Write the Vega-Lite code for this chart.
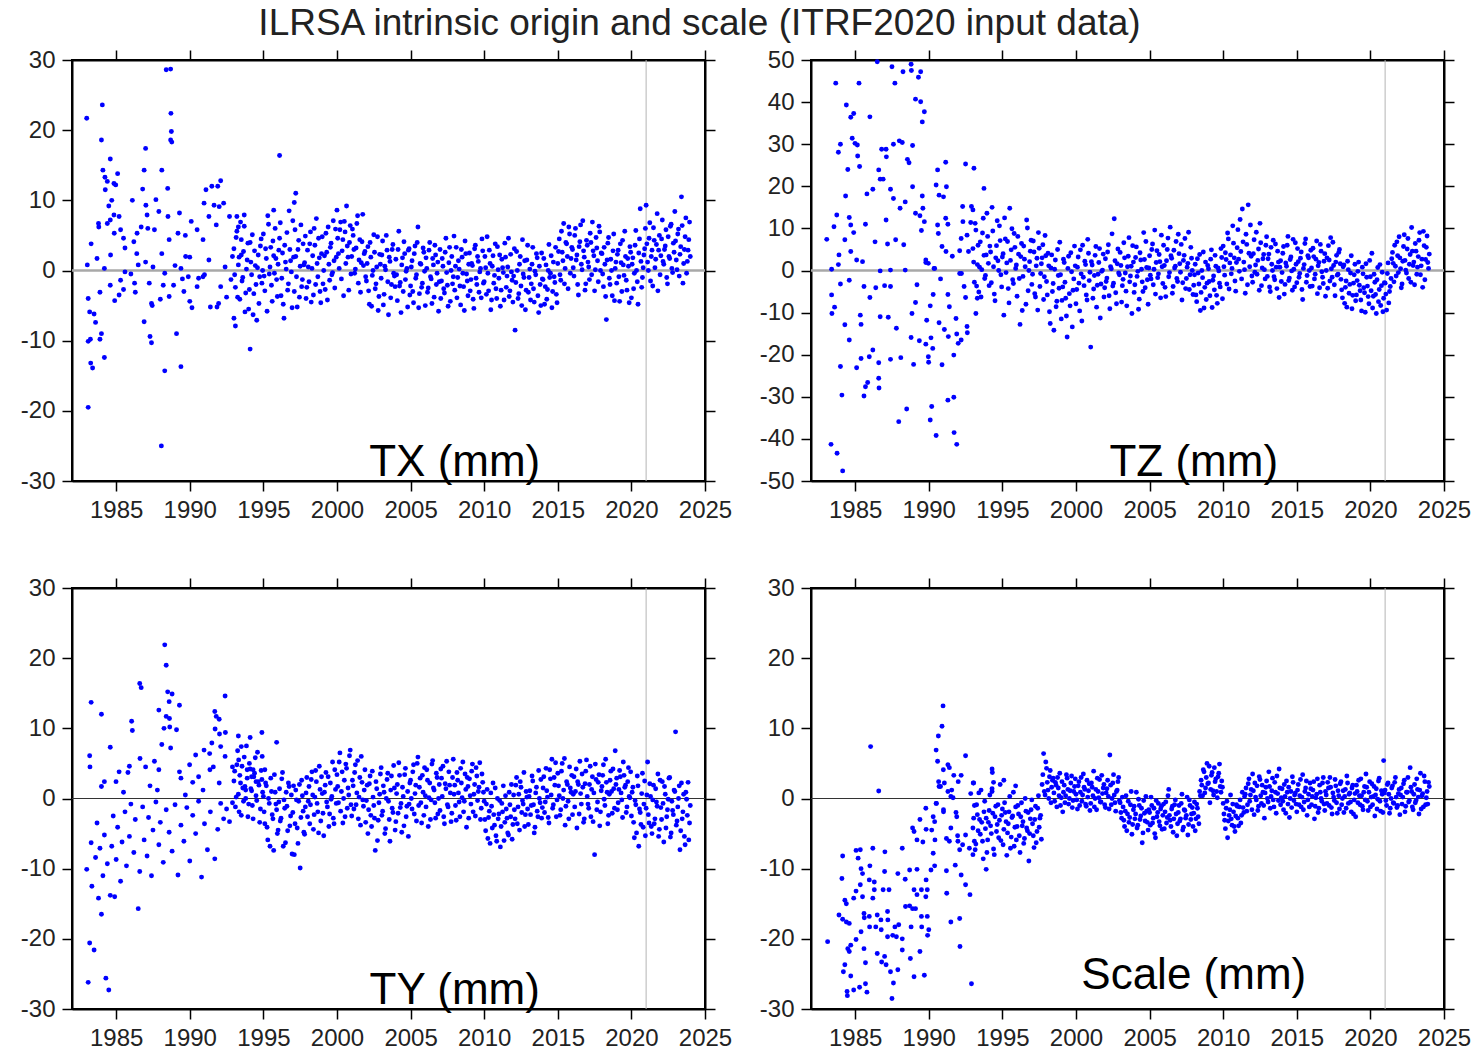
{
"$schema":"https://vega.github.io/schema/vega-lite/v6.json",
"background":"white",
"padding":{"left":19,"top":5,"right":10,"bottom":10},
"title":{"text":"ILRSA intrinsic origin and scale (ITRF2020 input data)","fontSize":37,"font":"Liberation Sans","fontWeight":"normal","color":"#222","anchor":"middle","offset":4,"dx":-46},
"config":{"font":"Liberation Sans","view":{"stroke":"black","strokeWidth":2},
"axis":{"domainColor":"black","domainWidth":2,"tickColor":"black","tickWidth":1.5,"tickSize":10,"labelFontSize":24,"labelColor":"#222","labelFont":"Liberation Sans","grid":false,"labelPadding":7,"labelFlush":false,"labelOverlap":false,"labelBound":false}},
"datasets":{
"tx":[
{"t":1983.0,"v":21.7},{"t":1984.06,"v":23.6},{"t":1984.0,"v":18.6},{"t":1984.6,"v":15.9},{"t":1984.1,"v":14.3},{"t":1984.24,"v":13.3},{"t":1984.4,"v":12.7},{"t":1984.85,"v":12.4},{"t":1984.97,"v":12.2},{"t":1985.1,"v":13.8},{"t":1984.26,"v":11.5},{"t":1984.7,"v":10.0},{"t":1984.5,"v":9.2},{"t":1983.8,"v":6.7},{"t":1983.82,"v":6.2},{"t":1984.4,"v":6.7},{"t":1984.6,"v":7.2},{"t":1984.85,"v":7.9},{"t":1985.2,"v":7.7},{"t":1984.87,"v":5.3},{"t":1983.3,"v":3.8},{"t":1983.7,"v":1.7},{"t":1984.2,"v":0.3},{"t":1983.04,"v":0.8},{"t":1984.62,"v":2.2},{"t":1985.3,"v":5.8},{"t":1985.5,"v":4.6},{"t":1985.6,"v":3.2},{"t":1986.1,"v":10.0},{"t":1986.2,"v":4.1},{"t":1986.4,"v":2.4},{"t":1987.0,"v":17.4},{"t":1986.9,"v":14.3},{"t":1986.8,"v":11.6},{"t":1987.02,"v":9.3},{"t":1987.1,"v":7.9},{"t":1986.7,"v":6.2},{"t":1986.42,"v":5.3},{"t":1987.15,"v":6.0},{"t":1987.6,"v":5.8},{"t":1987.7,"v":10.1},{"t":1987.9,"v":8.4},{"t":1988.1,"v":14.3},{"t":1988.5,"v":11.7},{"t":1988.4,"v":28.6},{"t":1988.7,"v":28.7},{"t":1988.72,"v":22.4},{"t":1988.75,"v":19.8},{"t":1988.7,"v":18.6},{"t":1988.78,"v":18.3},{"t":1988.52,"v":7.7},{"t":1989.3,"v":8.2},{"t":1989.2,"v":5.3},{"t":1988.6,"v":4.4},{"t":1988.1,"v":2.4},{"t":1989.7,"v":5.0},{"t":1990.1,"v":7.0},{"t":1990.5,"v":5.8},{"t":1991.1,"v":11.5},{"t":1990.97,"v":9.6},{"t":1991.5,"v":12.0},{"t":1991.9,"v":12.0},{"t":1992.1,"v":12.8},{"t":1991.65,"v":9.3},{"t":1992.0,"v":9.1},{"t":1992.3,"v":9.6},{"t":1991.3,"v":7.7},{"t":1991.8,"v":6.5},{"t":1992.7,"v":7.7},{"t":1993.2,"v":7.7},{"t":1993.7,"v":7.9},{"t":1990.9,"v":4.4},{"t":1991.3,"v":1.5},{"t":1989.72,"v":2.0},{"t":1989.4,"v":0.3},{"t":1993.3,"v":6.2},{"t":1993.5,"v":4.4},{"t":1992.9,"v":2.0},{"t":1995.7,"v":8.6},{"t":1996.1,"v":16.4},{"t":1997.2,"v":11.0},{"t":1997.1,"v":9.7},
{"t":1983.1,"v":-4.0},{"t":1983.2,"v":-5.9},{"t":1983.5,"v":-6.2},{"t":1983.6,"v":-7.4},{"t":1984.0,"v":-9.0},{"t":1983.9,"v":-9.8},{"t":1983.25,"v":-9.8},{"t":1983.1,"v":-10.1},{"t":1983.27,"v":-13.2},{"t":1983.4,"v":-13.9},{"t":1984.2,"v":-12.4},{"t":1983.1,"v":-19.5},{"t":1983.9,"v":-3.1},{"t":1984.6,"v":-2.1},{"t":1984.9,"v":-4.3},{"t":1985.3,"v":-1.4},{"t":1985.5,"v":-2.7},{"t":1985.2,"v":-3.5},{"t":1986.25,"v":-1.8},{"t":1986.3,"v":-3.1},{"t":1987.25,"v":-1.8},{"t":1986.9,"v":-7.3},{"t":1987.4,"v":-4.7},{"t":1987.3,"v":-9.4},{"t":1987.4,"v":-10.3},{"t":1988.0,"v":-4.1},{"t":1988.6,"v":-3.7},{"t":1988.2,"v":-2.1},{"t":1988.9,"v":-2.1},{"t":1988.3,"v":-14.3},{"t":1989.4,"v":-13.7},{"t":1989.1,"v":-9.0},{"t":1988.07,"v":-25.0},{"t":1987.45,"v":-5.0},{"t":1989.6,"v":-3.0},{"t":1990.0,"v":-4.4},{"t":1990.15,"v":-5.3},{"t":1990.5,"v":-2.3},{"t":1990.9,"v":-0.9},{"t":1991.4,"v":-5.2},{"t":1991.85,"v":-5.2},{"t":1991.96,"v":-4.7},{"t":1992.5,"v":-3.8},{"t":1992.1,"v":-2.3},{"t":1993.0,"v":-6.8},{"t":1993.1,"v":-7.9},{"t":1994.1,"v":-11.2},{"t":1985.6,"v":-0.2},{"t":1986.5,"v":0.8},{"t":1987.5,"v":0.5},{"t":1988.3,"v":-0.4},{"t":1989.5,"v":-1.2},{"t":1989.9,"v":-0.9},{"t":1990.6,"v":-1.1},{"t":1986.0,"v":-0.5},{"t":1987.0,"v":1.2},{"t":1989.0,"v":0.7},{"t":1990.0,"v":1.9},{"t":1991.0,"v":-0.6},{"t":1992.4,"v":0.5},{"t":1992.8,"v":-1.3},
{"t":1993.0,"v":3.1},{"t":1993.1,"v":-2.4},{"t":1993.2,"v":5.6},{"t":1993.3,"v":0.8},{"t":1993.4,"v":-4.1},{"t":1993.5,"v":2.2},{"t":1993.6,"v":-1.0},{"t":1993.7,"v":6.3},{"t":1993.8,"v":-3.2},{"t":1993.9,"v":1.5},
{"t":1994.0,"v":-5.5},{"t":1994.1,"v":4.0},{"t":1994.2,"v":-0.6},{"t":1994.3,"v":-6.3},{"t":1994.4,"v":2.8},{"t":1994.5,"v":-2.0},{"t":1994.6,"v":0.4},{"t":1994.7,"v":-4.7},{"t":1994.8,"v":3.5},{"t":1994.9,"v":-1.8},
{"t":1995.0,"v":5.2},{"t":1995.1,"v":-2.9},{"t":1995.2,"v":1.7},{"t":1995.3,"v":7.8},{"t":1995.4,"v":-0.5},{"t":1995.5,"v":3.3},{"t":1995.6,"v":-4.4},{"t":1995.7,"v":2.1},{"t":1995.8,"v":6.0},{"t":1995.9,"v":-1.3},
{"t":1996.0,"v":0.9},{"t":1996.1,"v":4.6},{"t":1996.2,"v":-3.6},{"t":1996.3,"v":2.5},{"t":1996.4,"v":-6.8},{"t":1996.5,"v":1.2},{"t":1996.6,"v":5.4},{"t":1996.7,"v":-1.9},{"t":1996.8,"v":3.0},{"t":1996.9,"v":-0.2},
{"t":1997.0,"v":7.1},{"t":1997.1,"v":-3.0},{"t":1997.2,"v":2.0},{"t":1997.3,"v":-5.2},{"t":1997.4,"v":4.3},{"t":1997.5,"v":0.6},{"t":1997.6,"v":-2.3},{"t":1997.7,"v":3.8},{"t":1997.8,"v":1.1},{"t":1997.9,"v":-4.0},
{"t":1998.0,"v":2.9},{"t":1998.1,"v":-1.6},{"t":1998.2,"v":5.5},{"t":1998.3,"v":0.3},{"t":1998.4,"v":-3.5},{"t":1998.5,"v":3.6},{"t":1998.6,"v":7.4},{"t":1998.7,"v":-0.9},{"t":1998.8,"v":1.8},{"t":1998.9,"v":-4.6},
{"t":1999.0,"v":4.8},{"t":1999.1,"v":0.0},{"t":1999.2,"v":-2.7},{"t":1999.3,"v":2.6},{"t":1999.4,"v":6.2},{"t":1999.5,"v":-1.4},{"t":1999.6,"v":3.9},{"t":1999.7,"v":-0.3},{"t":1999.8,"v":1.4},{"t":1999.9,"v":5.9},
{"t":2000.0,"v":8.6},{"t":2000.1,"v":2.4},{"t":2000.2,"v":5.8},{"t":2000.3,"v":-1.2},{"t":2000.4,"v":4.4},{"t":2000.5,"v":7.0},{"t":2000.6,"v":1.0},{"t":2000.7,"v":3.5},{"t":2000.8,"v":-2.8},{"t":2000.9,"v":6.4},
{"t":2001.0,"v":2.0},{"t":2001.1,"v":5.0},{"t":2001.2,"v":-0.4},{"t":2001.3,"v":3.2},{"t":2001.4,"v":7.8},{"t":2001.5,"v":1.5},{"t":2001.6,"v":-3.1},{"t":2001.7,"v":4.1},{"t":2001.8,"v":0.7},{"t":2001.9,"v":2.7},
{"t":2002.0,"v":-1.5},{"t":2002.1,"v":3.4},{"t":2002.2,"v":-4.8},{"t":2002.3,"v":1.9},{"t":2002.4,"v":-0.7},{"t":2002.5,"v":5.1},{"t":2002.6,"v":-2.6},{"t":2002.7,"v":0.5},{"t":2002.8,"v":-5.7},{"t":2002.9,"v":2.3},
{"t":2003.0,"v":-1.1},{"t":2003.1,"v":4.2},{"t":2003.2,"v":-3.4},{"t":2003.3,"v":0.1},{"t":2003.4,"v":2.9},{"t":2003.5,"v":-6.3},{"t":2003.6,"v":1.3},{"t":2003.7,"v":-2.0},{"t":2003.8,"v":3.7},{"t":2003.9,"v":-0.8},
{"t":2004.0,"v":1.6},{"t":2004.1,"v":-4.3},{"t":2004.2,"v":5.6},{"t":2004.3,"v":-1.7},{"t":2004.4,"v":0.8},{"t":2004.5,"v":-3.0},{"t":2004.6,"v":2.4},{"t":2004.7,"v":-0.1},{"t":2004.8,"v":-5.2},{"t":2004.9,"v":3.1},
{"t":2005.0,"v":-2.2},{"t":2005.1,"v":1.4},{"t":2005.2,"v":-4.6},{"t":2005.3,"v":3.5},{"t":2005.4,"v":-0.6},{"t":2005.5,"v":6.2},{"t":2005.6,"v":-3.3},{"t":2005.7,"v":0.9},{"t":2005.8,"v":-1.8},{"t":2005.9,"v":2.6},
{"t":2006.0,"v":-5.0},{"t":2006.1,"v":0.3},{"t":2006.2,"v":-2.5},{"t":2006.3,"v":4.0},{"t":2006.4,"v":-1.2},{"t":2006.5,"v":1.7},{"t":2006.6,"v":-3.8},{"t":2006.7,"v":2.2},{"t":2006.8,"v":-0.4},{"t":2006.9,"v":-5.8},
{"t":2007.0,"v":3.0},{"t":2007.1,"v":-1.5},{"t":2007.2,"v":0.6},{"t":2007.3,"v":-3.2},{"t":2007.4,"v":4.6},{"t":2007.5,"v":-2.1},{"t":2007.6,"v":1.1},{"t":2007.7,"v":-4.4},{"t":2007.8,"v":2.0},{"t":2007.9,"v":-0.9},
{"t":2008.0,"v":-2.8},{"t":2008.1,"v":3.3},{"t":2008.2,"v":-1.0},{"t":2008.3,"v":0.2},{"t":2008.4,"v":-4.9},{"t":2008.5,"v":1.9},{"t":2008.6,"v":-2.3},{"t":2008.7,"v":4.2},{"t":2008.8,"v":-0.5},{"t":2008.9,"v":-3.6},
{"t":2009.0,"v":2.5},{"t":2009.1,"v":-1.3},{"t":2009.2,"v":0.7},{"t":2009.3,"v":-5.4},{"t":2009.4,"v":3.6},{"t":2009.5,"v":-2.0},{"t":2009.6,"v":1.3},{"t":2009.7,"v":-0.2},{"t":2009.8,"v":-3.9},{"t":2009.9,"v":2.8},
{"t":2010.0,"v":-1.6},{"t":2010.1,"v":0.4},{"t":2010.2,"v":4.8},{"t":2010.3,"v":-2.9},{"t":2010.4,"v":1.0},{"t":2010.5,"v":-4.2},{"t":2010.6,"v":2.1},{"t":2010.7,"v":-0.7},{"t":2010.8,"v":-2.6},{"t":2010.9,"v":3.4},
{"t":2011.0,"v":-1.1},{"t":2011.1,"v":-5.1},{"t":2011.2,"v":1.6},{"t":2011.3,"v":-0.3},{"t":2011.4,"v":3.9},{"t":2011.5,"v":-2.4},{"t":2011.6,"v":0.5},{"t":2011.7,"v":-3.7},{"t":2011.8,"v":2.3},{"t":2011.9,"v":-1.4},
{"t":2012.0,"v":-0.8},{"t":2012.1,"v":-8.5},{"t":2012.2,"v":2.7},{"t":2012.3,"v":-4.0},{"t":2012.4,"v":0.9},{"t":2012.5,"v":-2.2},{"t":2012.6,"v":4.4},{"t":2012.7,"v":-1.0},{"t":2012.8,"v":-5.6},{"t":2012.9,"v":1.5},
{"t":2013.0,"v":-3.1},{"t":2013.1,"v":0.2},{"t":2013.2,"v":-1.9},{"t":2013.3,"v":3.3},{"t":2013.4,"v":-4.5},{"t":2013.5,"v":-0.6},{"t":2013.6,"v":1.8},{"t":2013.7,"v":-6.0},{"t":2013.8,"v":-2.0},{"t":2013.9,"v":2.5},
{"t":2014.0,"v":-1.3},{"t":2014.1,"v":-4.8},{"t":2014.2,"v":0.8},{"t":2014.3,"v":-2.7},{"t":2014.4,"v":3.7},{"t":2014.5,"v":-0.4},{"t":2014.6,"v":-5.3},{"t":2014.7,"v":1.2},{"t":2014.8,"v":-1.7},{"t":2014.9,"v":-3.4},
{"t":2015.0,"v":1.0},{"t":2015.1,"v":4.5},{"t":2015.2,"v":-1.4},{"t":2015.3,"v":2.6},{"t":2015.4,"v":6.7},{"t":2015.5,"v":0.3},{"t":2015.6,"v":3.8},{"t":2015.7,"v":-2.6},{"t":2015.8,"v":5.2},{"t":2015.9,"v":1.7},
{"t":2016.0,"v":3.0},{"t":2016.1,"v":-0.8},{"t":2016.2,"v":6.0},{"t":2016.3,"v":2.2},{"t":2016.4,"v":-3.5},{"t":2016.5,"v":4.1},{"t":2016.6,"v":0.9},{"t":2016.7,"v":7.1},{"t":2016.8,"v":1.9},{"t":2016.9,"v":-1.9},
{"t":2017.0,"v":3.6},{"t":2017.1,"v":0.5},{"t":2017.2,"v":5.3},{"t":2017.3,"v":-0.6},{"t":2017.4,"v":2.8},{"t":2017.5,"v":-2.9},{"t":2017.6,"v":4.7},{"t":2017.7,"v":1.4},{"t":2017.8,"v":6.3},{"t":2017.9,"v":0.0},
{"t":2018.0,"v":2.4},{"t":2018.1,"v":-2.3},{"t":2018.2,"v":0.9},{"t":2018.3,"v":-7.0},{"t":2018.4,"v":3.9},{"t":2018.5,"v":-1.1},{"t":2018.6,"v":1.6},{"t":2018.7,"v":-3.6},{"t":2018.8,"v":5.2},{"t":2018.9,"v":0.3},
{"t":2019.0,"v":-1.8},{"t":2019.1,"v":2.9},{"t":2019.2,"v":-4.4},{"t":2019.3,"v":1.1},{"t":2019.4,"v":4.3},{"t":2019.5,"v":-0.7},{"t":2019.6,"v":2.0},{"t":2019.7,"v":-2.8},{"t":2019.8,"v":0.6},{"t":2019.9,"v":3.4},
{"t":2020.0,"v":-3.9},{"t":2020.1,"v":1.8},{"t":2020.2,"v":-0.4},{"t":2020.3,"v":5.7},{"t":2020.4,"v":-1.6},{"t":2020.5,"v":2.5},{"t":2020.6,"v":8.8},{"t":2020.7,"v":-2.4},{"t":2020.8,"v":0.4},{"t":2020.9,"v":3.1},
{"t":2021.0,"v":9.3},{"t":2021.1,"v":1.2},{"t":2021.2,"v":4.6},{"t":2021.3,"v":-1.5},{"t":2021.4,"v":2.9},{"t":2021.5,"v":6.1},{"t":2021.6,"v":0.4},{"t":2021.7,"v":3.7},{"t":2021.8,"v":-2.9},{"t":2021.9,"v":5.0},
{"t":2022.0,"v":2.1},{"t":2022.1,"v":7.2},{"t":2022.2,"v":0.9},{"t":2022.3,"v":3.5},{"t":2022.4,"v":-1.0},{"t":2022.5,"v":4.8},{"t":2022.6,"v":1.7},{"t":2022.7,"v":6.6},{"t":2022.8,"v":-0.3},{"t":2022.9,"v":2.6},
{"t":2023.0,"v":4.2},{"t":2023.1,"v":0.1},{"t":2023.2,"v":5.9},{"t":2023.3,"v":2.3},{"t":2023.4,"v":10.5},{"t":2023.5,"v":-1.8},{"t":2023.6,"v":3.0},{"t":2023.7,"v":7.5},{"t":2023.8,"v":1.3},{"t":2023.9,"v":4.4},{"t":2024.0,"v":2.0},
{"t":1993.05,"v":-0.6},{"t":1993.15,"v":4.7},{"t":1993.25,"v":-3.8},{"t":1993.35,"v":1.9},{"t":1993.45,"v":6.9},{"t":1993.55,"v":-1.5},{"t":1993.65,"v":2.7},{"t":1993.75,"v":-5.9},{"t":1993.85,"v":0.2},{"t":1993.95,"v":3.9},
{"t":1994.05,"v":-2.7},{"t":1994.15,"v":1.2},{"t":1994.25,"v":5.1},{"t":1994.35,"v":-3.3},{"t":1994.45,"v":0.7},{"t":1994.55,"v":-7.1},{"t":1994.65,"v":2.2},{"t":1994.75,"v":-0.9},{"t":1994.85,"v":4.5},{"t":1994.95,"v":0.0},
{"t":1995.05,"v":-0.8},{"t":1995.15,"v":3.1},{"t":1995.25,"v":-5.8},{"t":1995.35,"v":6.6},{"t":1995.45,"v":0.5},{"t":1995.55,"v":-2.1},{"t":1995.65,"v":4.2},{"t":1995.75,"v":-0.4},{"t":1995.85,"v":1.7},{"t":1995.95,"v":-3.7},
{"t":1996.05,"v":2.9},{"t":1996.15,"v":6.8},{"t":1996.25,"v":-1.1},{"t":1996.35,"v":-4.8},{"t":1996.45,"v":3.6},{"t":1996.55,"v":0.2},{"t":1996.65,"v":-2.8},{"t":1996.75,"v":8.5},{"t":1996.85,"v":1.4},{"t":1996.95,"v":-5.3},
{"t":1997.05,"v":1.9},{"t":1997.15,"v":5.8},{"t":1997.25,"v":-0.9},{"t":1997.35,"v":3.0},{"t":1997.45,"v":-3.8},{"t":1997.55,"v":6.5},{"t":1997.65,"v":-1.3},{"t":1997.75,"v":0.8},{"t":1997.85,"v":4.9},{"t":1997.95,"v":-2.4},
{"t":1998.05,"v":0.5},{"t":1998.15,"v":3.8},{"t":1998.25,"v":-4.5},{"t":1998.35,"v":2.1},{"t":1998.45,"v":6.0},{"t":1998.55,"v":-2.0},{"t":1998.65,"v":1.0},{"t":1998.75,"v":4.6},{"t":1998.85,"v":-3.0},{"t":1998.95,"v":2.4},
{"t":1999.05,"v":-1.9},{"t":1999.15,"v":2.1},{"t":1999.25,"v":5.3},{"t":1999.35,"v":-4.2},{"t":1999.45,"v":0.9},{"t":1999.55,"v":3.3},{"t":1999.65,"v":-0.6},{"t":1999.75,"v":7.1},{"t":1999.85,"v":-2.5},{"t":1999.95,"v":1.9},
{"t":2000.05,"v":4.6},{"t":2000.15,"v":0.3},{"t":2000.25,"v":6.9},{"t":2000.35,"v":2.8},{"t":2000.45,"v":-3.6},{"t":2000.55,"v":5.5},{"t":2000.65,"v":9.2},{"t":2000.75,"v":1.9},{"t":2000.85,"v":4.0},{"t":2000.95,"v":-0.5},
{"t":2001.05,"v":5.9},{"t":2001.15,"v":3.0},{"t":2001.25,"v":0.2},{"t":2001.35,"v":6.7},{"t":2001.45,"v":-1.8},{"t":2001.55,"v":4.4},{"t":2001.65,"v":1.1},{"t":2001.75,"v":8.0},{"t":2001.85,"v":2.4},{"t":2001.95,"v":-0.9},
{"t":2002.05,"v":1.0},{"t":2002.15,"v":-2.9},{"t":2002.25,"v":4.0},{"t":2002.35,"v":-5.1},{"t":2002.45,"v":0.0},{"t":2002.55,"v":2.6},{"t":2002.65,"v":-1.9},{"t":2002.75,"v":4.8},{"t":2002.85,"v":-3.7},{"t":2002.95,"v":0.9},
{"t":2003.05,"v":2.2},{"t":2003.15,"v":-4.9},{"t":2003.25,"v":0.6},{"t":2003.35,"v":5.0},{"t":2003.45,"v":-1.6},{"t":2003.55,"v":1.9},{"t":2003.65,"v":-3.9},{"t":2003.75,"v":3.0},{"t":2003.85,"v":-0.4},{"t":2003.95,"v":-2.3},
{"t":2004.05,"v":-0.6},{"t":2004.15,"v":3.0},{"t":2004.25,"v":-2.2},{"t":2004.35,"v":-6.0},{"t":2004.45,"v":1.8},{"t":2004.55,"v":4.1},{"t":2004.65,"v":-1.3},{"t":2004.75,"v":0.3},{"t":2004.85,"v":2.9},{"t":2004.95,"v":-3.5},
{"t":2005.05,"v":0.5},{"t":2005.15,"v":-3.0},{"t":2005.25,"v":2.4},{"t":2005.35,"v":-1.1},{"t":2005.45,"v":4.0},{"t":2005.55,"v":-5.3},{"t":2005.65,"v":1.0},{"t":2005.75,"v":-2.4},{"t":2005.85,"v":3.2},{"t":2005.95,"v":-0.1},
{"t":2006.05,"v":1.8},{"t":2006.15,"v":-3.1},{"t":2006.25,"v":2.9},{"t":2006.35,"v":-0.9},{"t":2006.45,"v":-4.7},{"t":2006.55,"v":0.8},{"t":2006.65,"v":3.6},{"t":2006.75,"v":-2.0},{"t":2006.85,"v":1.2},{"t":2006.95,"v":-1.6},
{"t":2007.05,"v":-4.0},{"t":2007.15,"v":1.7},{"t":2007.25,"v":-2.6},{"t":2007.35,"v":2.6},{"t":2007.45,"v":-0.3},{"t":2007.55,"v":-5.1},{"t":2007.65,"v":3.3},{"t":2007.75,"v":0.0},{"t":2007.85,"v":-1.9},{"t":2007.95,"v":4.9},
{"t":2008.05,"v":0.6},{"t":2008.15,"v":-3.9},{"t":2008.25,"v":1.4},{"t":2008.35,"v":-2.2},{"t":2008.45,"v":3.0},{"t":2008.55,"v":-0.4},{"t":2008.65,"v":-5.7},{"t":2008.75,"v":2.4},{"t":2008.85,"v":-1.5},{"t":2008.95,"v":0.9},
{"t":2009.05,"v":-2.9},{"t":2009.15,"v":1.0},{"t":2009.25,"v":-4.1},{"t":2009.35,"v":3.1},{"t":2009.45,"v":-1.1},{"t":2009.55,"v":2.0},{"t":2009.65,"v":-3.1},{"t":2009.75,"v":0.3},{"t":2009.85,"v":4.5},{"t":2009.95,"v":-1.8},
{"t":2010.05,"v":2.0},{"t":2010.15,"v":-3.4},{"t":2010.25,"v":-0.4},{"t":2010.35,"v":2.9},{"t":2010.45,"v":-5.6},{"t":2010.55,"v":0.6},{"t":2010.65,"v":-1.8},{"t":2010.75,"v":3.8},{"t":2010.85,"v":-4.0},{"t":2010.95,"v":0.1},
{"t":2011.05,"v":2.2},{"t":2011.15,"v":-2.8},{"t":2011.25,"v":0.4},{"t":2011.35,"v":-4.2},{"t":2011.45,"v":1.9},{"t":2011.55,"v":-0.8},{"t":2011.65,"v":4.6},{"t":2011.75,"v":-2.9},{"t":2011.85,"v":-0.2},{"t":2011.95,"v":-4.5},
{"t":2012.05,"v":3.1},{"t":2012.15,"v":-1.7},{"t":2012.25,"v":0.0},{"t":2012.35,"v":-3.3},{"t":2012.45,"v":2.0},{"t":2012.55,"v":-5.0},{"t":2012.65,"v":-0.5},{"t":2012.75,"v":1.4},{"t":2012.85,"v":-2.8},{"t":2012.95,"v":3.6},
{"t":2013.05,"v":-1.0},{"t":2013.15,"v":-4.2},{"t":2013.25,"v":0.9},{"t":2013.35,"v":-2.6},{"t":2013.45,"v":-0.1},{"t":2013.55,"v":2.4},{"t":2013.65,"v":-3.6},{"t":2013.75,"v":0.6},{"t":2013.85,"v":-5.0},{"t":2013.95,"v":-1.2},
{"t":2014.05,"v":1.7},{"t":2014.15,"v":-2.3},{"t":2014.25,"v":-4.1},{"t":2014.35,"v":0.0},{"t":2014.45,"v":-1.0},{"t":2014.55,"v":2.1},{"t":2014.65,"v":-3.0},{"t":2014.75,"v":-0.9},{"t":2014.85,"v":3.3},{"t":2014.95,"v":-4.6},
{"t":2015.05,"v":2.7},{"t":2015.15,"v":-0.6},{"t":2015.25,"v":5.6},{"t":2015.35,"v":1.4},{"t":2015.45,"v":-1.9},{"t":2015.55,"v":4.0},{"t":2015.65,"v":2.0},{"t":2015.75,"v":6.2},{"t":2015.85,"v":-0.4},{"t":2015.95,"v":3.3},
{"t":2016.05,"v":0.4},{"t":2016.15,"v":5.0},{"t":2016.25,"v":1.5},{"t":2016.35,"v":-2.0},{"t":2016.45,"v":3.4},{"t":2016.55,"v":6.5},{"t":2016.65,"v":0.1},{"t":2016.75,"v":2.8},{"t":2016.85,"v":-2.8},{"t":2016.95,"v":4.3},
{"t":2017.05,"v":1.2},{"t":2017.15,"v":-1.3},{"t":2017.25,"v":4.0},{"t":2017.35,"v":6.9},{"t":2017.45,"v":2.1},{"t":2017.55,"v":0.1},{"t":2017.65,"v":3.2},{"t":2017.75,"v":-1.6},{"t":2017.85,"v":5.5},{"t":2017.95,"v":2.5},
{"t":2018.05,"v":-0.5},{"t":2018.15,"v":3.3},{"t":2018.25,"v":-3.7},{"t":2018.35,"v":1.5},{"t":2018.45,"v":4.7},{"t":2018.55,"v":-2.0},{"t":2018.65,"v":0.0},{"t":2018.75,"v":2.8},{"t":2018.85,"v":-4.3},{"t":2018.95,"v":1.2},
{"t":2019.05,"v":2.3},{"t":2019.15,"v":-0.9},{"t":2019.25,"v":3.8},{"t":2019.35,"v":-3.0},{"t":2019.45,"v":0.8},{"t":2019.55,"v":5.6},{"t":2019.65,"v":-1.4},{"t":2019.75,"v":1.7},{"t":2019.85,"v":-4.6},{"t":2019.95,"v":2.6},
{"t":2020.05,"v":0.9},{"t":2020.15,"v":-2.6},{"t":2020.25,"v":3.6},{"t":2020.35,"v":0.0},{"t":2020.45,"v":-4.8},{"t":2020.55,"v":4.5},{"t":2020.65,"v":1.3},{"t":2020.75,"v":-1.0},{"t":2020.85,"v":2.2},{"t":2020.95,"v":6.0},
{"t":2021.05,"v":3.8},{"t":2021.15,"v":0.0},{"t":2021.25,"v":6.8},{"t":2021.35,"v":2.0},{"t":2021.45,"v":-2.2},{"t":2021.55,"v":4.3},{"t":2021.65,"v":1.6},{"t":2021.75,"v":8.1},{"t":2021.85,"v":2.9},{"t":2021.95,"v":-0.6},
{"t":2022.05,"v":4.5},{"t":2022.15,"v":1.3},{"t":2022.25,"v":3.0},{"t":2022.35,"v":5.8},{"t":2022.45,"v":-1.9},{"t":2022.55,"v":2.0},{"t":2022.65,"v":6.3},{"t":2022.75,"v":0.3},{"t":2022.85,"v":3.9},{"t":2022.95,"v":8.4},
{"t":2023.05,"v":1.5},{"t":2023.15,"v":5.2},{"t":2023.25,"v":-0.8},{"t":2023.35,"v":3.4},{"t":2023.45,"v":6.4},{"t":2023.55,"v":1.0},{"t":2023.65,"v":4.8},{"t":2023.75,"v":-0.4},{"t":2023.85,"v":2.9},{"t":2023.95,"v":6.9}
],
"tz":[
{"t":1983.4,"v":0.3},{"t":1983.86,"v":1.4},{"t":1984.0,"v":-3.2},{"t":1984.6,"v":-2.3},{"t":1983.4,"v":-5.8},{"t":1983.6,"v":-8.7},{"t":1983.42,"v":-10.2},{"t":1984.3,"v":-12.9},{"t":1984.6,"v":-16.5},{"t":1984.0,"v":-22.8},{"t":1984.1,"v":-29.6},{"t":1983.36,"v":-41.3},{"t":1983.77,"v":-43.4},{"t":1984.15,"v":-47.6},{"t":1985.6,"v":-3.8},{"t":1986.0,"v":-6.4},{"t":1985.35,"v":-10.6},{"t":1985.4,"v":-12.8},{"t":1985.1,"v":-23.1},{"t":1985.4,"v":-20.9},{"t":1985.96,"v":-20.5},{"t":1986.2,"v":-18.9},{"t":1986.6,"v":-21.9},{"t":1985.85,"v":-26.6},{"t":1985.7,"v":-27.6},{"t":1985.6,"v":-29.8},{"t":1986.6,"v":-25.6},{"t":1986.62,"v":-27.9},{"t":1986.4,"v":-4.1},{"t":1987.0,"v":-3.6},{"t":1987.4,"v":-3.8},{"t":1986.7,"v":-11.0},{"t":1987.25,"v":-11.1},{"t":1987.8,"v":-13.7},{"t":1987.4,"v":-21.1},{"t":1988.1,"v":-20.7},{"t":1988.97,"v":-22.3},{"t":1988.5,"v":-32.9},{"t":1987.96,"v":-35.9},{"t":1989.2,"v":-3.4},{"t":1989.1,"v":-7.6},{"t":1988.86,"v":-10.2},{"t":1988.8,"v":-15.9},{"t":1989.36,"v":-16.7},{"t":1989.8,"v":-17.5},{"t":1990.15,"v":-16.0},{"t":1990.27,"v":-18.5},{"t":1989.86,"v":-11.8},{"t":1990.1,"v":-8.4},{"t":1990.3,"v":-5.7},{"t":1990.8,"v":-2.0},{"t":1989.8,"v":1.9},{"t":1990.4,"v":0.5},{"t":1989.97,"v":-20.5},{"t":1989.99,"v":-21.8},{"t":1990.9,"v":-22.4},{"t":1990.2,"v":-32.3},{"t":1990.1,"v":-35.5},{"t":1990.5,"v":-39.2},{"t":1991.3,"v":-5.7},{"t":1991.4,"v":-8.6},{"t":1990.7,"v":-12.4},{"t":1991.06,"v":-14.0},{"t":1991.33,"v":-15.7},{"t":1991.85,"v":-11.4},{"t":1991.9,"v":-15.1},{"t":1992.0,"v":-17.3},{"t":1992.2,"v":-16.5},{"t":1991.7,"v":-20.1},{"t":1991.3,"v":-30.8},{"t":1991.7,"v":-30.1},{"t":1991.72,"v":-38.5},{"t":1991.9,"v":-41.3},{"t":1992.4,"v":-3.8},{"t":1992.5,"v":-6.4},{"t":1992.6,"v":-13.3},{"t":1992.62,"v":-14.8},{"t":1993.2,"v":-10.2},{"t":1993.3,"v":-6.6},{"t":1992.1,"v":-0.7},
{"t":1983.07,"v":7.4},{"t":1983.56,"v":10.4},{"t":1983.75,"v":13.2},{"t":1983.86,"v":28.1},{"t":1984.0,"v":30.0},{"t":1983.68,"v":44.5},{"t":1984.4,"v":39.3},{"t":1984.7,"v":36.4},{"t":1984.9,"v":37.3},{"t":1984.5,"v":24.0},{"t":1984.35,"v":17.7},{"t":1984.6,"v":12.6},{"t":1984.7,"v":10.8},{"t":1984.9,"v":9.0},{"t":1984.3,"v":7.3},{"t":1984.8,"v":31.4},{"t":1984.99,"v":30.2},{"t":1985.15,"v":29.8},{"t":1985.17,"v":27.2},{"t":1985.3,"v":24.7},{"t":1985.26,"v":44.5},{"t":1983.9,"v":3.7},{"t":1984.7,"v":4.5},{"t":1985.1,"v":2.5},{"t":1985.5,"v":2.1},{"t":1985.7,"v":11.0},{"t":1985.8,"v":18.2},{"t":1986.0,"v":36.5},{"t":1986.2,"v":19.3},{"t":1986.35,"v":6.8},{"t":1986.5,"v":49.6},{"t":1986.7,"v":21.7},{"t":1986.6,"v":23.9},{"t":1986.8,"v":28.8},{"t":1987.1,"v":28.8},{"t":1987.12,"v":27.0},{"t":1986.9,"v":21.7},{"t":1987.1,"v":12.0},{"t":1987.2,"v":6.3},{"t":1987.4,"v":19.3},{"t":1987.6,"v":17.1},{"t":1987.5,"v":48.4},{"t":1987.7,"v":44.5},{"t":1987.6,"v":30.0},{"t":1988.0,"v":30.8},{"t":1988.2,"v":30.4},{"t":1987.75,"v":7.3},{"t":1988.05,"v":14.8},{"t":1988.4,"v":16.3},{"t":1988.25,"v":47.2},{"t":1988.8,"v":49.0},{"t":1988.82,"v":47.5},{"t":1989.3,"v":45.9},{"t":1989.45,"v":47.2},{"t":1988.55,"v":26.4},{"t":1988.66,"v":25.6},{"t":1988.9,"v":29.7},{"t":1988.9,"v":19.9},{"t":1989.1,"v":40.7},{"t":1989.45,"v":40.1},{"t":1989.7,"v":37.7},{"t":1989.56,"v":35.3},{"t":1989.1,"v":13.6},{"t":1989.4,"v":13.0},{"t":1989.6,"v":14.8},{"t":1989.56,"v":17.7},{"t":1989.5,"v":9.5},{"t":1989.7,"v":11.6},{"t":1989.8,"v":2.5},{"t":1989.97,"v":1.7},{"t":1990.36,"v":0.5},{"t":1988.3,"v":6.1},{"t":1988.4,"v":0.1},{"t":1987.4,"v":0.1},{"t":1986.7,"v":-0.1},{"t":1990.6,"v":10.8},{"t":1990.65,"v":8.8},{"t":1990.5,"v":20.3},{"t":1990.6,"v":23.9},{"t":1990.7,"v":17.9},{"t":1990.9,"v":5.7},{"t":1991.0,"v":17.5},{"t":1991.15,"v":25.7},{"t":1991.2,"v":19.9},{"t":1991.15,"v":12.4},{"t":1991.3,"v":11.0},{"t":1991.17,"v":4.5},{"t":1991.6,"v":3.4},{"t":1992.1,"v":4.7},{"t":1992.3,"v":15.2},{"t":1992.5,"v":25.3},{"t":1993.07,"v":24.3},{"t":1992.9,"v":15.2},{"t":1993.0,"v":14.4},{"t":1992.32,"v":11.6},{"t":1992.85,"v":11.4},{"t":1992.6,"v":8.4},{"t":1993.75,"v":19.5},{"t":1992.2,"v":7.6},{"t":1992.7,"v":4.5},{"t":1992.22,"v":-0.7},
{"t":1993.0,"v":5.2},{"t":1993.1,"v":-2.8},{"t":1993.2,"v":9.6},{"t":1993.3,"v":1.4},{"t":1993.4,"v":-5.1},{"t":1993.5,"v":6.8},{"t":1993.6,"v":0.2},{"t":1993.7,"v":12.4},{"t":1993.8,"v":-1.9},{"t":1993.9,"v":3.7},
{"t":1994.0,"v":8.1},{"t":1994.1,"v":-3.6},{"t":1994.2,"v":4.4},{"t":1994.3,"v":15.0},{"t":1994.4,"v":0.9},{"t":1994.5,"v":-7.2},{"t":1994.6,"v":5.9},{"t":1994.7,"v":2.3},{"t":1994.8,"v":10.6},{"t":1994.9,"v":-1.0},
{"t":1995.0,"v":3.2},{"t":1995.1,"v":-10.6},{"t":1995.2,"v":7.5},{"t":1995.3,"v":1.8},{"t":1995.4,"v":-4.3},{"t":1995.5,"v":14.8},{"t":1995.6,"v":4.9},{"t":1995.7,"v":-2.2},{"t":1995.8,"v":8.8},{"t":1995.9,"v":0.5},
{"t":1996.0,"v":-6.1},{"t":1996.1,"v":3.9},{"t":1996.2,"v":-12.8},{"t":1996.3,"v":6.4},{"t":1996.4,"v":-1.4},{"t":1996.5,"v":2.7},{"t":1996.6,"v":-8.0},{"t":1996.7,"v":10.1},{"t":1996.8,"v":0.0},{"t":1996.9,"v":4.6},
{"t":1997.0,"v":-3.3},{"t":1997.1,"v":7.0},{"t":1997.2,"v":-5.5},{"t":1997.3,"v":1.1},{"t":1997.4,"v":-9.4},{"t":1997.5,"v":5.3},{"t":1997.6,"v":-0.7},{"t":1997.7,"v":3.0},{"t":1997.8,"v":-6.9},{"t":1997.9,"v":8.3},
{"t":1998.0,"v":-2.6},{"t":1998.1,"v":4.1},{"t":1998.2,"v":-9.8},{"t":1998.3,"v":0.6},{"t":1998.4,"v":-5.0},{"t":1998.5,"v":-14.2},{"t":1998.6,"v":2.5},{"t":1998.7,"v":-7.3},{"t":1998.8,"v":-1.2},{"t":1998.9,"v":6.7},
{"t":1999.0,"v":-11.5},{"t":1999.1,"v":-3.9},{"t":1999.2,"v":1.9},{"t":1999.3,"v":-6.6},{"t":1999.4,"v":-15.8},{"t":1999.5,"v":3.4},{"t":1999.6,"v":-8.4},{"t":1999.7,"v":-0.3},{"t":1999.8,"v":-4.7},{"t":1999.9,"v":5.8},
{"t":2000.0,"v":-7.9},{"t":2000.1,"v":0.8},{"t":2000.2,"v":-3.0},{"t":2000.3,"v":4.9},{"t":2000.4,"v":-12.0},{"t":2000.5,"v":-1.6},{"t":2000.6,"v":2.2},{"t":2000.7,"v":-5.8},{"t":2000.8,"v":7.4},{"t":2000.9,"v":-2.4},
{"t":2001.0,"v":-18.2},{"t":2001.1,"v":1.3},{"t":2001.2,"v":-4.4},{"t":2001.3,"v":3.6},{"t":2001.4,"v":-8.7},{"t":2001.5,"v":-0.9},{"t":2001.6,"v":5.2},{"t":2001.7,"v":-3.2},{"t":2001.8,"v":0.1},{"t":2001.9,"v":-6.3},
{"t":2002.0,"v":2.8},{"t":2002.1,"v":-1.8},{"t":2002.2,"v":6.1},{"t":2002.3,"v":-9.1},{"t":2002.4,"v":0.4},{"t":2002.5,"v":-3.7},{"t":2002.6,"v":12.3},{"t":2002.7,"v":-5.3},{"t":2002.8,"v":1.6},{"t":2002.9,"v":-0.6},
{"t":2003.0,"v":4.3},{"t":2003.1,"v":-7.5},{"t":2003.2,"v":-2.1},{"t":2003.3,"v":3.0},{"t":2003.4,"v":-4.9},{"t":2003.5,"v":0.9},{"t":2003.6,"v":7.8},{"t":2003.7,"v":-1.3},{"t":2003.8,"v":-10.2},{"t":2003.9,"v":2.0},
{"t":2004.0,"v":-3.4},{"t":2004.1,"v":5.6},{"t":2004.2,"v":-0.2},{"t":2004.3,"v":-6.8},{"t":2004.4,"v":2.5},{"t":2004.5,"v":-2.7},{"t":2004.6,"v":9.0},{"t":2004.7,"v":-4.1},{"t":2004.8,"v":0.7},{"t":2004.9,"v":-8.0},
{"t":2005.0,"v":3.5},{"t":2005.1,"v":-2.0},{"t":2005.2,"v":6.3},{"t":2005.3,"v":0.3},{"t":2005.4,"v":-5.6},{"t":2005.5,"v":4.7},{"t":2005.6,"v":-0.8},{"t":2005.7,"v":2.1},{"t":2005.8,"v":8.4},{"t":2005.9,"v":-3.1},
{"t":2006.0,"v":1.2},{"t":2006.1,"v":-6.2},{"t":2006.2,"v":5.0},{"t":2006.3,"v":-1.5},{"t":2006.4,"v":10.3},{"t":2006.5,"v":2.9},{"t":2006.6,"v":-3.8},{"t":2006.7,"v":0.6},{"t":2006.8,"v":6.9},{"t":2006.9,"v":-2.6},
{"t":2007.0,"v":4.0},{"t":2007.1,"v":-0.4},{"t":2007.2,"v":-7.0},{"t":2007.3,"v":2.4},{"t":2007.4,"v":7.6},{"t":2007.5,"v":-1.9},{"t":2007.6,"v":1.7},{"t":2007.7,"v":-4.5},{"t":2007.8,"v":5.5},{"t":2007.9,"v":0.0},
{"t":2008.0,"v":-3.5},{"t":2008.1,"v":1.5},{"t":2008.2,"v":-7.4},{"t":2008.3,"v":-0.6},{"t":2008.4,"v":3.8},{"t":2008.5,"v":-5.2},{"t":2008.6,"v":-1.7},{"t":2008.7,"v":-8.9},{"t":2008.8,"v":2.0},{"t":2008.9,"v":-3.0},
{"t":2009.0,"v":0.4},{"t":2009.1,"v":-6.0},{"t":2009.2,"v":4.9},{"t":2009.3,"v":-2.3},{"t":2009.4,"v":-4.6},{"t":2009.5,"v":1.0},{"t":2009.6,"v":-7.8},{"t":2009.7,"v":-0.1},{"t":2009.8,"v":-3.9},{"t":2009.9,"v":3.1},
{"t":2010.0,"v":5.8},{"t":2010.1,"v":-1.1},{"t":2010.2,"v":2.6},{"t":2010.3,"v":8.9},{"t":2010.4,"v":-4.4},{"t":2010.5,"v":3.7},{"t":2010.6,"v":0.5},{"t":2010.7,"v":6.5},{"t":2010.8,"v":-2.5},{"t":2010.9,"v":1.9},
{"t":2011.0,"v":9.7},{"t":2011.1,"v":-0.2},{"t":2011.2,"v":4.5},{"t":2011.3,"v":14.6},{"t":2011.4,"v":2.0},{"t":2011.5,"v":-5.4},{"t":2011.6,"v":6.2},{"t":2011.7,"v":15.6},{"t":2011.8,"v":0.9},{"t":2011.9,"v":3.4},
{"t":2012.0,"v":-2.8},{"t":2012.1,"v":7.3},{"t":2012.2,"v":1.3},{"t":2012.3,"v":-0.9},{"t":2012.4,"v":5.1},{"t":2012.5,"v":11.2},{"t":2012.6,"v":-3.6},{"t":2012.7,"v":2.8},{"t":2012.8,"v":0.2},{"t":2012.9,"v":6.0},
{"t":2013.0,"v":-1.4},{"t":2013.1,"v":3.9},{"t":2013.2,"v":-5.0},{"t":2013.3,"v":1.5},{"t":2013.4,"v":7.2},{"t":2013.5,"v":-2.2},{"t":2013.6,"v":0.8},{"t":2013.7,"v":4.6},{"t":2013.8,"v":-6.4},{"t":2013.9,"v":2.3},
{"t":2014.0,"v":-0.5},{"t":2014.1,"v":5.7},{"t":2014.2,"v":-3.3},{"t":2014.3,"v":1.0},{"t":2014.4,"v":8.1},{"t":2014.5,"v":-1.8},{"t":2014.6,"v":3.2},{"t":2014.7,"v":-4.7},{"t":2014.8,"v":0.3},{"t":2014.9,"v":6.6},
{"t":2015.0,"v":-2.9},{"t":2015.1,"v":2.1},{"t":2015.2,"v":-0.7},{"t":2015.3,"v":4.4},{"t":2015.4,"v":-6.9},{"t":2015.5,"v":1.4},{"t":2015.6,"v":7.5},{"t":2015.7,"v":-1.2},{"t":2015.8,"v":3.0},{"t":2015.9,"v":-3.8},
{"t":2016.0,"v":0.6},{"t":2016.1,"v":5.3},{"t":2016.2,"v":-2.0},{"t":2016.3,"v":2.7},{"t":2016.4,"v":-5.5},{"t":2016.5,"v":1.9},{"t":2016.6,"v":6.2},{"t":2016.7,"v":-0.3},{"t":2016.8,"v":-3.1},{"t":2016.9,"v":4.0},
{"t":2017.0,"v":0.0},{"t":2017.1,"v":-4.2},{"t":2017.2,"v":2.5},{"t":2017.3,"v":7.8},{"t":2017.4,"v":-1.6},{"t":2017.5,"v":1.2},{"t":2017.6,"v":-6.0},{"t":2017.7,"v":3.6},{"t":2017.8,"v":-0.9},{"t":2017.9,"v":5.0},
{"t":2018.0,"v":-2.1},{"t":2018.1,"v":-6.5},{"t":2018.2,"v":1.3},{"t":2018.3,"v":-4.0},{"t":2018.4,"v":-8.7},{"t":2018.5,"v":0.2},{"t":2018.6,"v":-3.3},{"t":2018.7,"v":3.5},{"t":2018.8,"v":-5.9},{"t":2018.9,"v":-1.0},
{"t":2019.0,"v":-7.2},{"t":2019.1,"v":-2.4},{"t":2019.2,"v":2.0},{"t":2019.3,"v":-4.8},{"t":2019.4,"v":-9.6},{"t":2019.5,"v":-0.8},{"t":2019.6,"v":-5.3},{"t":2019.7,"v":1.6},{"t":2019.8,"v":-3.7},{"t":2019.9,"v":-7.9},
{"t":2020.0,"v":-1.5},{"t":2020.1,"v":4.1},{"t":2020.2,"v":-6.1},{"t":2020.3,"v":-2.8},{"t":2020.4,"v":-10.2},{"t":2020.5,"v":0.7},{"t":2020.6,"v":-4.5},{"t":2020.7,"v":-8.3},{"t":2020.8,"v":-0.4},{"t":2020.9,"v":-6.6},
{"t":2021.0,"v":-3.0},{"t":2021.1,"v":-9.4},{"t":2021.2,"v":1.8},{"t":2021.3,"v":-5.0},{"t":2021.4,"v":-1.9},
{"t":2021.5,"v":4.3},{"t":2021.6,"v":-2.7},{"t":2021.7,"v":1.0},{"t":2021.8,"v":6.8},{"t":2021.9,"v":-0.5},{"t":2022.0,"v":3.0},{"t":2022.1,"v":-4.1},{"t":2022.2,"v":2.2},{"t":2022.3,"v":8.5},{"t":2022.4,"v":0.1},{"t":2022.5,"v":5.1},{"t":2022.6,"v":-1.9},{"t":2022.7,"v":3.8},{"t":2022.8,"v":10.2},{"t":2022.9,"v":1.2},
{"t":2023.0,"v":-3.4},{"t":2023.1,"v":4.6},{"t":2023.2,"v":0.8},{"t":2023.3,"v":7.2},{"t":2023.4,"v":-1.0},{"t":2023.5,"v":2.7},{"t":2023.6,"v":9.3},{"t":2023.7,"v":-2.2},{"t":2023.8,"v":5.5},{"t":2023.9,"v":1.9},{"t":2024.0,"v":3.9},
{"t":1993.05,"v":2.0},{"t":1993.15,"v":11.2},{"t":1993.25,"v":-3.7},{"t":1993.35,"v":6.0},{"t":1993.45,"v":0.8},{"t":1993.55,"v":-6.3},{"t":1993.65,"v":8.9},{"t":1993.75,"v":3.6},{"t":1993.85,"v":-1.2},{"t":1993.95,"v":13.6},
{"t":1994.05,"v":1.7},{"t":1994.15,"v":5.8},{"t":1994.25,"v":-2.9},{"t":1994.35,"v":9.4},{"t":1994.45,"v":-5.6},{"t":1994.55,"v":3.0},{"t":1994.65,"v":11.8},{"t":1994.75,"v":0.0},{"t":1994.85,"v":7.1},{"t":1994.95,"v":-3.9},
{"t":1995.05,"v":4.0},{"t":1995.15,"v":12.5},{"t":1995.25,"v":-0.5},{"t":1995.35,"v":6.9},{"t":1995.45,"v":-7.7},{"t":1995.55,"v":2.4},{"t":1995.65,"v":9.9},{"t":1995.75,"v":-3.1},{"t":1995.85,"v":5.5},{"t":1995.95,"v":1.3},
{"t":1996.05,"v":8.1},{"t":1996.15,"v":-1.9},{"t":1996.25,"v":3.3},{"t":1996.35,"v":-9.5},{"t":1996.45,"v":5.8},{"t":1996.55,"v":0.9},{"t":1996.65,"v":12.0},{"t":1996.75,"v":-4.8},{"t":1996.85,"v":2.1},{"t":1996.95,"v":7.2},
{"t":1997.05,"v":-0.9},{"t":1997.15,"v":4.4},{"t":1997.25,"v":-6.3},{"t":1997.35,"v":2.9},{"t":1997.45,"v":9.0},{"t":1997.55,"v":-3.8},{"t":1997.65,"v":1.6},{"t":1997.75,"v":6.1},{"t":1997.85,"v":-1.5},{"t":1997.95,"v":3.5},
{"t":1998.05,"v":-5.8},{"t":1998.15,"v":1.1},{"t":1998.25,"v":-12.6},{"t":1998.35,"v":3.7},{"t":1998.45,"v":-3.1},{"t":1998.55,"v":0.3},{"t":1998.65,"v":-8.6},{"t":1998.75,"v":5.0},{"t":1998.85,"v":-4.2},{"t":1998.95,"v":-1.0},
{"t":1999.05,"v":-7.1},{"t":1999.15,"v":2.7},{"t":1999.25,"v":-2.8},{"t":1999.35,"v":-10.8},{"t":1999.45,"v":0.5},{"t":1999.55,"v":-5.5},{"t":1999.65,"v":4.2},{"t":1999.75,"v":-13.4},{"t":1999.85,"v":-2.0},{"t":1999.95,"v":1.1},
{"t":2000.05,"v":-4.5},{"t":2000.15,"v":3.2},{"t":2000.25,"v":-9.6},{"t":2000.35,"v":-0.8},{"t":2000.45,"v":6.0},{"t":2000.55,"v":-3.6},{"t":2000.65,"v":1.4},{"t":2000.75,"v":-7.0},{"t":2000.85,"v":4.1},{"t":2000.95,"v":-0.4},
{"t":2001.05,"v":2.1},{"t":2001.15,"v":-6.6},{"t":2001.25,"v":-1.2},{"t":2001.35,"v":5.7},{"t":2001.45,"v":-3.5},{"t":2001.55,"v":1.9},{"t":2001.65,"v":-11.3},{"t":2001.75,"v":-0.2},{"t":2001.85,"v":3.9},{"t":2001.95,"v":-4.1},
{"t":2002.05,"v":-2.6},{"t":2002.15,"v":4.4},{"t":2002.25,"v":-6.0},{"t":2002.35,"v":0.9},{"t":2002.45,"v":8.7},{"t":2002.55,"v":-3.0},{"t":2002.65,"v":2.3},{"t":2002.75,"v":-7.9},{"t":2002.85,"v":5.1},{"t":2002.95,"v":-1.0},
{"t":2003.05,"v":1.2},{"t":2003.15,"v":-3.6},{"t":2003.25,"v":6.6},{"t":2003.35,"v":-0.6},{"t":2003.45,"v":-8.4},{"t":2003.55,"v":3.4},{"t":2003.65,"v":-2.7},{"t":2003.75,"v":1.0},{"t":2003.85,"v":5.9},{"t":2003.95,"v":-5.2},
{"t":2004.05,"v":3.1},{"t":2004.15,"v":-1.4},{"t":2004.25,"v":-9.2},{"t":2004.35,"v":4.2},{"t":2004.45,"v":0.3},{"t":2004.55,"v":-5.0},{"t":2004.65,"v":2.6},{"t":2004.75,"v":6.9},{"t":2004.85,"v":-2.2},{"t":2004.95,"v":0.6},
{"t":2005.05,"v":-1.1},{"t":2005.15,"v":5.0},{"t":2005.25,"v":-3.4},{"t":2005.35,"v":9.6},{"t":2005.45,"v":1.9},{"t":2005.55,"v":-1.7},{"t":2005.65,"v":3.8},{"t":2005.75,"v":-6.5},{"t":2005.85,"v":0.9},{"t":2005.95,"v":6.0},
{"t":2006.05,"v":-4.0},{"t":2006.15,"v":2.3},{"t":2006.25,"v":7.7},{"t":2006.35,"v":-0.5},{"t":2006.45,"v":3.5},{"t":2006.55,"v":-5.4},{"t":2006.65,"v":4.8},{"t":2006.75,"v":1.0},{"t":2006.85,"v":-1.9},{"t":2006.95,"v":8.6},
{"t":2007.05,"v":1.6},{"t":2007.15,"v":6.2},{"t":2007.25,"v":-2.9},{"t":2007.35,"v":3.6},{"t":2007.45,"v":-4.3},{"t":2007.55,"v":0.8},{"t":2007.65,"v":9.1},{"t":2007.75,"v":-1.0},{"t":2007.85,"v":2.9},{"t":2007.95,"v":-5.7},
{"t":2008.05,"v":-1.0},{"t":2008.15,"v":-5.8},{"t":2008.25,"v":2.8},{"t":2008.35,"v":-3.2},{"t":2008.45,"v":-9.5},{"t":2008.55,"v":0.0},{"t":2008.65,"v":4.4},{"t":2008.75,"v":-4.0},{"t":2008.85,"v":-6.9},{"t":2008.95,"v":1.2},
{"t":2009.05,"v":-2.6},{"t":2009.15,"v":2.7},{"t":2009.25,"v":-8.8},{"t":2009.35,"v":-1.3},{"t":2009.45,"v":3.6},{"t":2009.55,"v":-5.9},{"t":2009.65,"v":0.6},{"t":2009.75,"v":-3.0},{"t":2009.85,"v":5.2},{"t":2009.95,"v":-6.7},
{"t":2010.05,"v":0.9},{"t":2010.15,"v":4.2},{"t":2010.25,"v":-3.2},{"t":2010.35,"v":7.5},{"t":2010.45,"v":1.8},{"t":2010.55,"v":-0.8},{"t":2010.65,"v":10.6},{"t":2010.75,"v":3.0},{"t":2010.85,"v":-4.9},{"t":2010.95,"v":5.4},
{"t":2011.05,"v":2.7},{"t":2011.15,"v":12.1},{"t":2011.25,"v":-2.0},{"t":2011.35,"v":6.8},{"t":2011.45,"v":0.2},{"t":2011.55,"v":8.6},{"t":2011.65,"v":-3.4},{"t":2011.75,"v":4.1},{"t":2011.85,"v":10.8},{"t":2011.95,"v":-1.3},
{"t":2012.05,"v":4.0},{"t":2012.15,"v":-0.4},{"t":2012.25,"v":9.1},{"t":2012.35,"v":2.4},{"t":2012.45,"v":-4.7},{"t":2012.55,"v":6.6},{"t":2012.65,"v":0.6},{"t":2012.75,"v":3.8},{"t":2012.85,"v":-2.0},{"t":2012.95,"v":8.0},
{"t":2013.05,"v":2.8},{"t":2013.15,"v":-3.9},{"t":2013.25,"v":5.5},{"t":2013.35,"v":0.0},{"t":2013.45,"v":-1.5},{"t":2013.55,"v":6.3},{"t":2013.65,"v":-4.3},{"t":2013.75,"v":2.0},{"t":2013.85,"v":0.8},{"t":2013.95,"v":-2.6},
{"t":2014.05,"v":4.1},{"t":2014.15,"v":-5.6},{"t":2014.25,"v":1.8},{"t":2014.35,"v":6.0},{"t":2014.45,"v":-2.4},{"t":2014.55,"v":2.6},{"t":2014.65,"v":-0.1},{"t":2014.75,"v":7.4},{"t":2014.85,"v":-3.9},{"t":2014.95,"v":1.5},
{"t":2015.05,"v":5.2},{"t":2015.15,"v":-1.6},{"t":2015.25,"v":2.9},{"t":2015.35,"v":-4.5},{"t":2015.45,"v":0.5},{"t":2015.55,"v":6.4},{"t":2015.65,"v":-2.8},{"t":2015.75,"v":3.5},{"t":2015.85,"v":0.0},{"t":2015.95,"v":4.8},
{"t":2016.05,"v":-3.7},{"t":2016.15,"v":3.3},{"t":2016.25,"v":-0.9},{"t":2016.35,"v":7.0},{"t":2016.45,"v":1.1},{"t":2016.55,"v":-4.1},{"t":2016.65,"v":4.6},{"t":2016.75,"v":-1.6},{"t":2016.85,"v":2.2},{"t":2016.95,"v":-6.1},
{"t":2017.05,"v":3.0},{"t":2017.15,"v":5.9},{"t":2017.25,"v":-2.5},{"t":2017.35,"v":0.4},{"t":2017.45,"v":6.7},{"t":2017.55,"v":-3.4},{"t":2017.65,"v":2.0},{"t":2017.75,"v":-1.1},{"t":2017.85,"v":4.3},{"t":2017.95,"v":1.6},
{"t":2018.05,"v":-4.6},{"t":2018.15,"v":0.9},{"t":2018.25,"v":-7.8},{"t":2018.35,"v":-2.5},{"t":2018.45,"v":2.2},{"t":2018.55,"v":-5.4},{"t":2018.65,"v":-0.6},{"t":2018.75,"v":-9.1},{"t":2018.85,"v":-3.0},{"t":2018.95,"v":1.5},
{"t":2019.05,"v":-5.8},{"t":2019.15,"v":-0.2},{"t":2019.25,"v":-3.5},{"t":2019.35,"v":-7.0},{"t":2019.45,"v":0.8},{"t":2019.55,"v":-4.1},{"t":2019.65,"v":-9.9},{"t":2019.75,"v":-1.6},{"t":2019.85,"v":-6.2},{"t":2019.95,"v":2.4},
{"t":2020.05,"v":-4.8},{"t":2020.15,"v":-8.9},{"t":2020.25,"v":-0.9},{"t":2020.35,"v":-5.7},{"t":2020.45,"v":-2.2},{"t":2020.55,"v":-7.4},{"t":2020.65,"v":1.4},{"t":2020.75,"v":-3.6},{"t":2020.85,"v":-9.8},{"t":2020.95,"v":-2.9},
{"t":2021.05,"v":-5.6},{"t":2021.15,"v":-0.7},{"t":2021.25,"v":-7.7},{"t":2021.35,"v":-3.8},{"t":2021.45,"v":2.8},{"t":2021.55,"v":1.7},{"t":2021.65,"v":6.0},{"t":2021.75,"v":-1.3},{"t":2021.85,"v":3.5},{"t":2021.95,"v":8.0},
{"t":2022.05,"v":0.4},{"t":2022.15,"v":-3.2},{"t":2022.25,"v":5.7},{"t":2022.35,"v":2.4},{"t":2022.45,"v":-0.6},{"t":2022.55,"v":7.6},{"t":2022.65,"v":1.5},{"t":2022.75,"v":-2.8},{"t":2022.85,"v":4.6},{"t":2022.95,"v":2.0},
{"t":2023.05,"v":6.4},{"t":2023.15,"v":-0.9},{"t":2023.25,"v":3.3},{"t":2023.35,"v":9.0},{"t":2023.45,"v":1.1},{"t":2023.55,"v":-4.0},{"t":2023.65,"v":5.9},{"t":2023.75,"v":2.6},{"t":2023.85,"v":8.2},{"t":2023.95,"v":0.5}
],
"ty":[
{"t":1983.3,"v":13.7},{"t":1984.0,"v":12.0},{"t":1983.2,"v":6.1},{"t":1983.22,"v":4.5},{"t":1984.6,"v":7.3},{"t":1984.2,"v":2.4},{"t":1984.0,"v":1.7},{"t":1984.99,"v":2.4},{"t":1985.2,"v":3.8},{"t":1985.8,"v":3.7},{"t":1985.9,"v":4.6},{"t":1986.05,"v":11.0},{"t":1986.1,"v":9.7},{"t":1986.6,"v":16.4},{"t":1986.7,"v":15.8},{"t":1986.62,"v":5.7},{"t":1987.0,"v":4.5},{"t":1987.6,"v":5.3},{"t":1987.9,"v":4.1},{"t":1987.8,"v":1.2},{"t":1988.3,"v":21.9},{"t":1988.4,"v":19.0},{"t":1988.5,"v":15.2},{"t":1988.8,"v":14.9},{"t":1988.6,"v":13.8},{"t":1989.3,"v":13.3},{"t":1987.9,"v":12.6},{"t":1988.4,"v":11.7},{"t":1988.62,"v":11.4},{"t":1988.25,"v":10.0},{"t":1988.64,"v":10.2},{"t":1989.1,"v":9.8},{"t":1988.1,"v":7.7},{"t":1988.7,"v":7.2},{"t":1989.3,"v":3.8},{"t":1989.4,"v":2.9},{"t":1989.99,"v":4.8},{"t":1990.4,"v":6.2},{"t":1990.2,"v":2.3},{"t":1990.6,"v":3.1},{"t":1990.97,"v":6.9},{"t":1991.35,"v":6.4},{"t":1991.5,"v":7.9},{"t":1991.7,"v":12.4},{"t":1991.8,"v":11.7},{"t":1992.0,"v":11.3},{"t":1991.72,"v":9.9},{"t":1992.02,"v":9.2},{"t":1992.4,"v":14.6},{"t":1992.42,"v":9.4},{"t":1992.1,"v":7.4},{"t":1992.4,"v":6.0},{"t":1991.6,"v":4.5},{"t":1991.37,"v":4.1},{"t":1992.0,"v":2.2},{"t":1992.9,"v":4.5},{"t":1993.3,"v":8.9},{"t":1993.5,"v":7.4},{"t":1994.1,"v":8.7},{"t":1994.9,"v":9.4},{"t":1995.9,"v":8.0},{"t":1993.32,"v":5.5},{"t":1993.9,"v":4.1},{"t":1994.2,"v":3.1},{"t":1994.5,"v":2.4},{"t":1994.92,"v":6.0},{"t":1995.1,"v":4.1},{"t":1993.8,"v":1.2},{"t":1994.3,"v":4.1},
{"t":1983.0,"v":-10.1},{"t":1983.1,"v":-26.2},{"t":1983.2,"v":-20.6},{"t":1983.3,"v":-6.3},{"t":1983.35,"v":-12.5},{"t":1983.5,"v":-21.6},{"t":1983.6,"v":-8.4},{"t":1983.7,"v":-3.5},{"t":1983.8,"v":-14.2},{"t":1983.9,"v":-7.1},{"t":1984.0,"v":-16.5},{"t":1984.1,"v":-11.0},{"t":1984.2,"v":-5.2},{"t":1984.3,"v":-25.6},{"t":1984.4,"v":-9.3},{"t":1984.5,"v":-27.3},{"t":1984.6,"v":-13.8},{"t":1984.7,"v":-6.8},{"t":1984.8,"v":-2.5},{"t":1984.9,"v":-14.0},{"t":1985.0,"v":-8.7},{"t":1985.1,"v":-4.1},{"t":1985.3,"v":-11.8},{"t":1985.4,"v":-6.2},{"t":1985.6,"v":-1.9},{"t":1985.7,"v":-9.6},{"t":1985.9,"v":-5.4},{"t":1986.0,"v":-0.8},{"t":1986.2,"v":-7.7},{"t":1986.3,"v":-3.0},{"t":1986.5,"v":-15.7},{"t":1986.6,"v":-10.4},{"t":1986.8,"v":-1.2},{"t":1986.9,"v":-5.9},{"t":1987.1,"v":-8.2},{"t":1987.2,"v":-2.7},{"t":1987.4,"v":-11.0},{"t":1987.5,"v":-4.5},{"t":1987.7,"v":-0.5},{"t":1987.9,"v":-6.6},{"t":1988.0,"v":-3.4},{"t":1988.2,"v":-9.1},{"t":1988.4,"v":-1.6},{"t":1988.6,"v":-4.8},{"t":1988.8,"v":-7.5},{"t":1989.0,"v":-0.9},{"t":1989.2,"v":-10.9},{"t":1989.4,"v":-3.8},{"t":1989.6,"v":-6.1},{"t":1989.8,"v":-1.3},{"t":1990.0,"v":-8.9},{"t":1990.2,"v":-2.4},{"t":1990.4,"v":-5.0},{"t":1990.6,"v":-0.4},{"t":1990.8,"v":-11.2},{"t":1991.0,"v":-3.6},{"t":1991.2,"v":-7.3},{"t":1991.4,"v":-1.9},{"t":1991.7,"v":-8.6},{"t":1991.9,"v":-4.4},{"t":1992.1,"v":-0.7},{"t":1992.3,"v":-2.9},{"t":1992.5,"v":-1.5},{"t":1992.7,"v":-3.3},{"t":1992.9,"v":-0.6},{"t":1985.5,"v":0.9},{"t":1987.3,"v":1.8},{"t":1989.7,"v":0.5},{"t":1990.9,"v":1.2},
{"t":1993.0,"v":2.5},{"t":1993.1,"v":-1.2},{"t":1993.2,"v":4.8},{"t":1993.3,"v":0.6},{"t":1993.4,"v":3.3},{"t":1993.5,"v":-2.4},{"t":1993.6,"v":1.5},{"t":1993.7,"v":5.9},{"t":1993.8,"v":0.0},{"t":1993.9,"v":2.9},
{"t":1994.0,"v":-0.8},{"t":1994.1,"v":4.2},{"t":1994.2,"v":1.1},{"t":1994.3,"v":-2.9},{"t":1994.4,"v":3.6},{"t":1994.5,"v":0.4},{"t":1994.6,"v":6.6},{"t":1994.7,"v":1.9},{"t":1994.8,"v":-1.5},{"t":1994.9,"v":2.7},
{"t":1995.0,"v":0.3},{"t":1995.1,"v":-3.6},{"t":1995.2,"v":1.8},{"t":1995.3,"v":-5.9},{"t":1995.4,"v":-0.7},{"t":1995.5,"v":2.9},{"t":1995.6,"v":-2.3},{"t":1995.7,"v":-7.4},{"t":1995.8,"v":0.9},{"t":1995.9,"v":-1.6},
{"t":1996.0,"v":-4.5},{"t":1996.1,"v":1.4},{"t":1996.2,"v":-2.8},{"t":1996.3,"v":3.7},{"t":1996.4,"v":-0.2},{"t":1996.5,"v":-6.3},{"t":1996.6,"v":-1.1},{"t":1996.7,"v":2.2},{"t":1996.8,"v":-3.9},{"t":1996.9,"v":0.5},
{"t":1997.0,"v":-2.0},{"t":1997.1,"v":-8.0},{"t":1997.2,"v":1.2},{"t":1997.3,"v":-4.2},{"t":1997.4,"v":-0.4},{"t":1997.5,"v":-9.9},{"t":1997.6,"v":2.6},{"t":1997.7,"v":-1.8},{"t":1997.8,"v":-5.1},{"t":1997.9,"v":0.8},
{"t":1998.0,"v":-2.6},{"t":1998.1,"v":1.7},{"t":1998.2,"v":-0.9},{"t":1998.3,"v":3.8},{"t":1998.4,"v":-4.4},{"t":1998.5,"v":0.2},{"t":1998.6,"v":2.4},{"t":1998.7,"v":-1.9},{"t":1998.8,"v":4.6},{"t":1998.9,"v":-3.2},
{"t":1999.0,"v":0.7},{"t":1999.1,"v":-5.3},{"t":1999.2,"v":1.9},{"t":1999.3,"v":-0.5},{"t":1999.4,"v":3.1},{"t":1999.5,"v":-2.2},{"t":1999.6,"v":-0.1},{"t":1999.7,"v":5.2},{"t":1999.8,"v":-3.6},{"t":1999.9,"v":1.3},
{"t":2000.0,"v":3.4},{"t":2000.1,"v":-0.6},{"t":2000.2,"v":6.5},{"t":2000.3,"v":1.0},{"t":2000.4,"v":-3.5},{"t":2000.5,"v":2.6},{"t":2000.6,"v":4.9},{"t":2000.7,"v":-1.4},{"t":2000.8,"v":0.5},{"t":2000.9,"v":6.9},
{"t":2001.0,"v":-2.5},{"t":2001.1,"v":1.8},{"t":2001.2,"v":3.7},{"t":2001.3,"v":-0.9},{"t":2001.4,"v":5.4},{"t":2001.5,"v":0.2},{"t":2001.6,"v":-3.8},{"t":2001.7,"v":2.3},{"t":2001.8,"v":-1.1},{"t":2001.9,"v":4.1},
{"t":2002.0,"v":-0.3},{"t":2002.1,"v":-5.0},{"t":2002.2,"v":2.1},{"t":2002.3,"v":-2.4},{"t":2002.4,"v":3.9},{"t":2002.5,"v":-1.0},{"t":2002.6,"v":-7.4},{"t":2002.7,"v":1.4},{"t":2002.8,"v":-3.1},{"t":2002.9,"v":0.6},
{"t":2003.0,"v":4.4},{"t":2003.1,"v":-1.8},{"t":2003.2,"v":0.9},{"t":2003.3,"v":-4.3},{"t":2003.4,"v":2.7},{"t":2003.5,"v":-0.4},{"t":2003.6,"v":-6.1},{"t":2003.7,"v":3.2},{"t":2003.8,"v":-2.0},{"t":2003.9,"v":1.5},
{"t":2004.0,"v":-3.3},{"t":2004.1,"v":2.0},{"t":2004.2,"v":5.1},{"t":2004.3,"v":-1.3},{"t":2004.4,"v":-4.8},{"t":2004.5,"v":0.3},{"t":2004.6,"v":3.4},{"t":2004.7,"v":-2.6},{"t":2004.8,"v":1.0},{"t":2004.9,"v":-0.8},
{"t":2005.0,"v":2.6},{"t":2005.1,"v":-1.5},{"t":2005.2,"v":4.8},{"t":2005.3,"v":0.7},{"t":2005.4,"v":-3.2},{"t":2005.5,"v":5.9},{"t":2005.6,"v":1.6},{"t":2005.7,"v":-0.6},{"t":2005.8,"v":3.3},{"t":2005.9,"v":-2.4},
{"t":2006.0,"v":0.4},{"t":2006.1,"v":4.1},{"t":2006.2,"v":-4.0},{"t":2006.3,"v":2.2},{"t":2006.4,"v":-0.2},{"t":2006.5,"v":5.4},{"t":2006.6,"v":1.2},{"t":2006.7,"v":-2.8},{"t":2006.8,"v":3.0},{"t":2006.9,"v":0.0},
{"t":2007.0,"v":-1.7},{"t":2007.1,"v":2.9},{"t":2007.2,"v":4.6},{"t":2007.3,"v":-3.6},{"t":2007.4,"v":1.4},{"t":2007.5,"v":-0.9},{"t":2007.6,"v":3.8},{"t":2007.7,"v":0.8},{"t":2007.8,"v":-2.1},{"t":2007.9,"v":5.6},
{"t":2008.0,"v":1.9},{"t":2008.1,"v":-3.1},{"t":2008.2,"v":2.6},{"t":2008.3,"v":-0.5},{"t":2008.4,"v":4.3},{"t":2008.5,"v":0.1},{"t":2008.6,"v":-1.9},{"t":2008.7,"v":3.5},{"t":2008.8,"v":-4.1},{"t":2008.9,"v":1.7},
{"t":2009.0,"v":2.8},{"t":2009.1,"v":-0.8},{"t":2009.2,"v":4.9},{"t":2009.3,"v":0.6},{"t":2009.4,"v":-2.5},{"t":2009.5,"v":3.2},{"t":2009.6,"v":1.0},{"t":2009.7,"v":5.1},{"t":2009.8,"v":-1.4},{"t":2009.9,"v":2.3},
{"t":2010.0,"v":-0.4},{"t":2010.1,"v":-4.6},{"t":2010.2,"v":1.3},{"t":2010.3,"v":-2.7},{"t":2010.4,"v":-6.4},{"t":2010.5,"v":-1.1},{"t":2010.6,"v":2.2},{"t":2010.7,"v":-3.8},{"t":2010.8,"v":-5.3},{"t":2010.9,"v":0.0},
{"t":2011.0,"v":-2.2},{"t":2011.1,"v":-6.9},{"t":2011.2,"v":-0.7},{"t":2011.3,"v":1.8},{"t":2011.4,"v":-3.4},{"t":2011.5,"v":-1.5},{"t":2011.6,"v":-4.9},{"t":2011.7,"v":0.9},{"t":2011.8,"v":-2.6},{"t":2011.9,"v":-5.8},
{"t":2012.0,"v":0.5},{"t":2012.1,"v":-2.9},{"t":2012.2,"v":3.0},{"t":2012.3,"v":-1.2},{"t":2012.4,"v":-4.5},{"t":2012.5,"v":1.6},{"t":2012.6,"v":-0.3},{"t":2012.7,"v":3.7},{"t":2012.8,"v":-2.3},{"t":2012.9,"v":0.2},
{"t":2013.0,"v":-3.7},{"t":2013.1,"v":1.1},{"t":2013.2,"v":-1.0},{"t":2013.3,"v":2.5},{"t":2013.4,"v":-4.9},{"t":2013.5,"v":0.8},{"t":2013.6,"v":-1.8},{"t":2013.7,"v":4.0},{"t":2013.8,"v":-0.6},{"t":2013.9,"v":-2.8},
{"t":2014.0,"v":1.5},{"t":2014.1,"v":-2.0},{"t":2014.2,"v":4.3},{"t":2014.3,"v":0.2},{"t":2014.4,"v":-3.5},{"t":2014.5,"v":2.8},{"t":2014.6,"v":5.6},{"t":2014.7,"v":-0.9},{"t":2014.8,"v":1.9},{"t":2014.9,"v":-2.6},
{"t":2015.0,"v":3.6},{"t":2015.1,"v":0.4},{"t":2015.2,"v":-1.6},{"t":2015.3,"v":5.0},{"t":2015.4,"v":1.2},{"t":2015.5,"v":-3.8},{"t":2015.6,"v":2.4},{"t":2015.7,"v":-0.4},{"t":2015.8,"v":4.5},{"t":2015.9,"v":0.9},
{"t":2016.0,"v":-2.3},{"t":2016.1,"v":3.1},{"t":2016.2,"v":1.0},{"t":2016.3,"v":-4.2},{"t":2016.4,"v":2.0},{"t":2016.5,"v":5.3},{"t":2016.6,"v":-0.8},{"t":2016.7,"v":1.6},{"t":2016.8,"v":-2.9},{"t":2016.9,"v":3.9},
{"t":2017.0,"v":0.3},{"t":2017.1,"v":-1.4},{"t":2017.2,"v":4.6},{"t":2017.3,"v":1.3},{"t":2017.4,"v":-3.3},{"t":2017.5,"v":-8.0},{"t":2017.6,"v":2.7},{"t":2017.7,"v":-0.5},{"t":2017.8,"v":3.4},{"t":2017.9,"v":-1.9},
{"t":2018.0,"v":1.7},{"t":2018.1,"v":4.8},{"t":2018.2,"v":-1.0},{"t":2018.3,"v":2.3},{"t":2018.4,"v":-3.6},{"t":2018.5,"v":0.6},{"t":2018.6,"v":3.9},{"t":2018.7,"v":-2.1},{"t":2018.8,"v":1.4},{"t":2018.9,"v":6.8},
{"t":2019.0,"v":2.9},{"t":2019.1,"v":-0.6},{"t":2019.2,"v":4.0},{"t":2019.3,"v":0.8},{"t":2019.4,"v":-2.7},{"t":2019.5,"v":3.3},{"t":2019.6,"v":1.9},{"t":2019.7,"v":-1.2},{"t":2019.8,"v":4.4},{"t":2019.9,"v":0.1},
{"t":2020.0,"v":-2.5},{"t":2020.1,"v":1.6},{"t":2020.2,"v":-5.6},{"t":2020.3,"v":-0.9},{"t":2020.4,"v":3.2},{"t":2020.5,"v":-6.8},{"t":2020.6,"v":-2.0},{"t":2020.7,"v":0.7},{"t":2020.8,"v":-4.1},{"t":2020.9,"v":2.5},
{"t":2021.0,"v":-1.4},{"t":2021.1,"v":5.2},{"t":2021.2,"v":-3.5},{"t":2021.3,"v":0.3},{"t":2021.4,"v":-5.0},
{"t":2021.5,"v":1.9},{"t":2021.6,"v":-2.9},{"t":2021.7,"v":-0.5},{"t":2021.8,"v":3.5},{"t":2021.9,"v":-4.4},{"t":2022.0,"v":-1.3},{"t":2022.1,"v":2.4},{"t":2022.2,"v":-6.2},{"t":2022.3,"v":0.6},{"t":2022.4,"v":-2.6},{"t":2022.5,"v":-0.1},{"t":2022.6,"v":3.0},{"t":2022.7,"v":-4.9},{"t":2022.8,"v":-1.7},{"t":2022.9,"v":1.2},
{"t":2023.0,"v":9.5},{"t":2023.1,"v":-3.2},{"t":2023.2,"v":0.0},{"t":2023.3,"v":-7.3},{"t":2023.4,"v":2.2},{"t":2023.5,"v":-1.9},{"t":2023.6,"v":-5.4},{"t":2023.7,"v":0.9},{"t":2023.8,"v":-2.4},{"t":2023.9,"v":-5.9},{"t":2024.0,"v":-1.0},
{"t":1993.05,"v":3.9},{"t":1993.15,"v":0.2},{"t":1993.25,"v":6.8},{"t":1993.35,"v":-1.9},{"t":1993.45,"v":2.2},{"t":1993.55,"v":4.6},{"t":1993.65,"v":-0.4},{"t":1993.75,"v":1.7},{"t":1993.85,"v":7.5},{"t":1993.95,"v":-2.6},
{"t":1994.05,"v":5.0},{"t":1994.15,"v":1.4},{"t":1994.25,"v":-1.0},{"t":1994.35,"v":3.1},{"t":1994.45,"v":5.8},{"t":1994.55,"v":-0.3},{"t":1994.65,"v":2.4},{"t":1994.75,"v":-3.4},{"t":1994.85,"v":4.0},{"t":1994.95,"v":0.9},
{"t":1995.05,"v":-1.9},{"t":1995.15,"v":2.2},{"t":1995.25,"v":-4.1},{"t":1995.35,"v":0.0},{"t":1995.45,"v":-6.8},{"t":1995.55,"v":1.0},{"t":1995.65,"v":-2.9},{"t":1995.75,"v":3.4},{"t":1995.85,"v":-0.8},{"t":1995.95,"v":-5.0},
{"t":1996.05,"v":-0.5},{"t":1996.15,"v":-3.2},{"t":1996.25,"v":2.8},{"t":1996.35,"v":-6.8},{"t":1996.45,"v":-1.4},{"t":1996.55,"v":0.9},{"t":1996.65,"v":-4.6},{"t":1996.75,"v":1.7},{"t":1996.85,"v":-2.5},{"t":1996.95,"v":-7.9},
{"t":1997.05,"v":1.8},{"t":1997.15,"v":-3.6},{"t":1997.25,"v":-0.2},{"t":1997.35,"v":-6.4},{"t":1997.45,"v":2.0},{"t":1997.55,"v":-2.7},{"t":1997.65,"v":0.4},{"t":1997.75,"v":-4.8},{"t":1997.85,"v":-1.2},{"t":1997.95,"v":3.0},
{"t":1998.05,"v":-0.4},{"t":1998.15,"v":-3.6},{"t":1998.25,"v":2.7},{"t":1998.35,"v":0.5},{"t":1998.45,"v":-2.3},{"t":1998.55,"v":4.0},{"t":1998.65,"v":-0.7},{"t":1998.75,"v":-4.9},{"t":1998.85,"v":1.3},{"t":1998.95,"v":3.1},
{"t":1999.05,"v":-2.1},{"t":1999.15,"v":0.9},{"t":1999.25,"v":3.7},{"t":1999.35,"v":-1.2},{"t":1999.45,"v":-4.0},{"t":1999.55,"v":2.2},{"t":1999.65,"v":0.3},{"t":1999.75,"v":-2.8},{"t":1999.85,"v":4.1},{"t":1999.95,"v":-0.7},
{"t":2000.05,"v":1.7},{"t":2000.15,"v":5.2},{"t":2000.25,"v":-1.8},{"t":2000.35,"v":3.8},{"t":2000.45,"v":0.0},{"t":2000.55,"v":-2.6},{"t":2000.65,"v":4.3},{"t":2000.75,"v":1.5},{"t":2000.85,"v":6.1},{"t":2000.95,"v":-0.9},
{"t":2001.05,"v":2.6},{"t":2001.15,"v":-1.5},{"t":2001.25,"v":4.8},{"t":2001.35,"v":0.8},{"t":2001.45,"v":-2.9},{"t":2001.55,"v":3.0},{"t":2001.65,"v":6.0},{"t":2001.75,"v":-0.2},{"t":2001.85,"v":1.2},{"t":2001.95,"v":-3.4},
{"t":2002.05,"v":1.9},{"t":2002.15,"v":-1.6},{"t":2002.25,"v":3.2},{"t":2002.35,"v":-4.0},{"t":2002.45,"v":0.2},{"t":2002.55,"v":-2.8},{"t":2002.65,"v":2.4},{"t":2002.75,"v":-6.0},{"t":2002.85,"v":-0.6},{"t":2002.95,"v":3.5},
{"t":2003.05,"v":-2.4},{"t":2003.15,"v":1.8},{"t":2003.25,"v":-5.0},{"t":2003.35,"v":0.0},{"t":2003.45,"v":3.6},{"t":2003.55,"v":-3.0},{"t":2003.65,"v":1.2},{"t":2003.75,"v":-1.4},{"t":2003.85,"v":4.7},{"t":2003.95,"v":-4.5},
{"t":2004.05,"v":0.7},{"t":2004.15,"v":-2.1},{"t":2004.25,"v":3.3},{"t":2004.35,"v":-0.7},{"t":2004.45,"v":1.6},{"t":2004.55,"v":-3.9},{"t":2004.65,"v":4.3},{"t":2004.75,"v":-1.1},{"t":2004.85,"v":-5.4},{"t":2004.95,"v":2.2},
{"t":2005.05,"v":0.0},{"t":2005.15,"v":3.8},{"t":2005.25,"v":-2.2},{"t":2005.35,"v":1.9},{"t":2005.45,"v":5.0},{"t":2005.55,"v":-1.0},{"t":2005.65,"v":2.9},{"t":2005.75,"v":-3.5},{"t":2005.85,"v":0.9},{"t":2005.95,"v":4.4},
{"t":2006.05,"v":-1.2},{"t":2006.15,"v":2.6},{"t":2006.25,"v":0.1},{"t":2006.35,"v":-3.0},{"t":2006.45,"v":4.9},{"t":2006.55,"v":1.5},{"t":2006.65,"v":-0.6},{"t":2006.75,"v":3.6},{"t":2006.85,"v":-2.2},{"t":2006.95,"v":2.0},
{"t":2007.05,"v":4.2},{"t":2007.15,"v":0.3},{"t":2007.25,"v":-2.6},{"t":2007.35,"v":2.1},{"t":2007.45,"v":5.3},{"t":2007.55,"v":-1.2},{"t":2007.65,"v":1.9},{"t":2007.75,"v":-3.3},{"t":2007.85,"v":3.0},{"t":2007.95,"v":0.6},
{"t":2008.05,"v":-1.0},{"t":2008.15,"v":3.7},{"t":2008.25,"v":0.8},{"t":2008.35,"v":-2.6},{"t":2008.45,"v":2.2},{"t":2008.55,"v":5.2},{"t":2008.65,"v":-0.4},{"t":2008.75,"v":1.3},{"t":2008.85,"v":3.0},{"t":2008.95,"v":-2.8},
{"t":2009.05,"v":0.4},{"t":2009.15,"v":3.9},{"t":2009.25,"v":-1.9},{"t":2009.35,"v":2.0},{"t":2009.45,"v":4.4},{"t":2009.55,"v":-0.3},{"t":2009.65,"v":1.6},{"t":2009.75,"v":-3.0},{"t":2009.85,"v":3.5},{"t":2009.95,"v":0.9},
{"t":2010.05,"v":-3.0},{"t":2010.15,"v":-0.8},{"t":2010.25,"v":-5.7},{"t":2010.35,"v":-1.8},{"t":2010.45,"v":0.8},{"t":2010.55,"v":-4.2},{"t":2010.65,"v":-2.3},{"t":2010.75,"v":1.5},{"t":2010.85,"v":-6.1},{"t":2010.95,"v":-2.9},
{"t":2011.05,"v":-0.3},{"t":2011.15,"v":-4.0},{"t":2011.25,"v":-1.9},{"t":2011.35,"v":-6.0},{"t":2011.45,"v":0.4},{"t":2011.55,"v":-2.8},{"t":2011.65,"v":-5.2},{"t":2011.75,"v":-0.9},{"t":2011.85,"v":2.0},{"t":2011.95,"v":-3.7},
{"t":2012.05,"v":-1.6},{"t":2012.15,"v":1.9},{"t":2012.25,"v":-3.6},{"t":2012.35,"v":0.6},{"t":2012.45,"v":2.4},{"t":2012.55,"v":-2.0},{"t":2012.65,"v":-0.8},{"t":2012.75,"v":-4.0},{"t":2012.85,"v":1.0},{"t":2012.95,"v":-1.5},
{"t":2013.05,"v":0.3},{"t":2013.15,"v":-2.3},{"t":2013.25,"v":3.2},{"t":2013.35,"v":-0.9},{"t":2013.45,"v":-4.1},{"t":2013.55,"v":1.6},{"t":2013.65,"v":-2.6},{"t":2013.75,"v":0.0},{"t":2013.85,"v":2.7},{"t":2013.95,"v":-1.3},
{"t":2014.05,"v":3.1},{"t":2014.15,"v":-0.5},{"t":2014.25,"v":1.1},{"t":2014.35,"v":-2.7},{"t":2014.45,"v":4.1},{"t":2014.55,"v":0.5},{"t":2014.65,"v":-1.4},{"t":2014.75,"v":3.0},{"t":2014.85,"v":5.1},{"t":2014.95,"v":-0.2},
{"t":2015.05,"v":1.8},{"t":2015.15,"v":-2.4},{"t":2015.25,"v":3.9},{"t":2015.35,"v":0.0},{"t":2015.45,"v":5.7},{"t":2015.55,"v":-1.1},{"t":2015.65,"v":2.0},{"t":2015.75,"v":-2.9},{"t":2015.85,"v":1.5},{"t":2015.95,"v":3.3},
{"t":2016.05,"v":0.6},{"t":2016.15,"v":-1.2},{"t":2016.25,"v":4.2},{"t":2016.35,"v":2.4},{"t":2016.45,"v":-2.2},{"t":2016.55,"v":0.7},{"t":2016.65,"v":3.5},{"t":2016.75,"v":-3.4},{"t":2016.85,"v":2.1},{"t":2016.95,"v":5.5},
{"t":2017.05,"v":-0.8},{"t":2017.15,"v":2.0},{"t":2017.25,"v":-2.6},{"t":2017.35,"v":3.1},{"t":2017.45,"v":0.8},{"t":2017.55,"v":4.9},{"t":2017.65,"v":-1.6},{"t":2017.75,"v":2.3},{"t":2017.85,"v":-3.9},{"t":2017.95,"v":1.1},
{"t":2018.05,"v":3.3},{"t":2018.15,"v":-0.1},{"t":2018.25,"v":5.6},{"t":2018.35,"v":0.9},{"t":2018.45,"v":-2.4},{"t":2018.55,"v":2.6},{"t":2018.65,"v":1.0},{"t":2018.75,"v":4.2},{"t":2018.85,"v":-1.4},{"t":2018.95,"v":2.0},
{"t":2019.05,"v":-1.6},{"t":2019.15,"v":1.3},{"t":2019.25,"v":3.1},{"t":2019.35,"v":-0.2},{"t":2019.45,"v":5.2},{"t":2019.55,"v":1.6},{"t":2019.65,"v":-2.0},{"t":2019.75,"v":2.4},{"t":2019.85,"v":0.3},{"t":2019.95,"v":3.8},
{"t":2020.05,"v":0.9},{"t":2020.15,"v":-3.4},{"t":2020.25,"v":-0.3},{"t":2020.35,"v":-4.9},{"t":2020.45,"v":1.8},{"t":2020.55,"v":-1.5},{"t":2020.65,"v":-3.7},{"t":2020.75,"v":3.6},{"t":2020.85,"v":-0.8},{"t":2020.95,"v":-5.3},
{"t":2021.05,"v":0.5},{"t":2021.15,"v":-2.3},{"t":2021.25,"v":2.1},{"t":2021.35,"v":-4.0},{"t":2021.45,"v":-0.2},{"t":2021.55,"v":-3.6},{"t":2021.65,"v":1.4},{"t":2021.75,"v":-1.1},{"t":2021.85,"v":-5.4},{"t":2021.95,"v":2.6},
{"t":2022.05,"v":-3.0},{"t":2022.15,"v":-0.7},{"t":2022.25,"v":1.7},{"t":2022.35,"v":-4.2},{"t":2022.45,"v":-1.6},{"t":2022.55,"v":2.9},{"t":2022.65,"v":-5.5},{"t":2022.75,"v":-0.4},{"t":2022.85,"v":-2.3},{"t":2022.95,"v":1.0},
{"t":2023.05,"v":-3.8},{"t":2023.15,"v":-1.2},{"t":2023.25,"v":1.8},{"t":2023.35,"v":-4.6},{"t":2023.45,"v":-2.9},{"t":2023.55,"v":0.6},{"t":2023.65,"v":-6.6},{"t":2023.75,"v":-0.1},{"t":2023.85,"v":2.3},{"t":2023.95,"v":-3.5}
],
"sc":[
{"t":1986.6,"v":1.07},{"t":1983.13,"v":-20.4},{"t":1984.15,"v":-8.2},{"t":1984.1,"v":-11.4},{"t":1984.3,"v":-14.5},{"t":1984.4,"v":-15.0},{"t":1983.9,"v":-16.6},{"t":1984.15,"v":-17.2},{"t":1984.4,"v":-17.6},{"t":1984.6,"v":-17.8},{"t":1984.7,"v":-20.9},{"t":1984.6,"v":-21.8},{"t":1984.5,"v":-21.4},{"t":1984.3,"v":-23.7},{"t":1984.2,"v":-24.7},{"t":1984.7,"v":-25.3},{"t":1984.45,"v":-27.5},{"t":1984.47,"v":-28.1},{"t":1984.9,"v":-27.3},{"t":1985.3,"v":-26.9},{"t":1985.7,"v":-26.4},{"t":1985.8,"v":-27.6},{"t":1985.06,"v":-7.4},{"t":1985.35,"v":-7.3},{"t":1985.2,"v":-8.5},{"t":1986.2,"v":-7.1},{"t":1985.4,"v":-10.0},{"t":1985.5,"v":-10.7},{"t":1986.0,"v":-9.6},{"t":1985.96,"v":-11.6},{"t":1986.3,"v":-11.9},{"t":1985.35,"v":-12.3},{"t":1985.06,"v":-13.2},{"t":1984.9,"v":-14.2},{"t":1985.5,"v":-14.0},{"t":1986.3,"v":-13.0},{"t":1986.2,"v":-14.2},{"t":1985.6,"v":-16.4},{"t":1985.62,"v":-17.0},{"t":1985.96,"v":-16.8},{"t":1986.5,"v":-16.6},{"t":1985.98,"v":-18.3},{"t":1986.4,"v":-18.3},{"t":1985.4,"v":-19.0},{"t":1985.6,"v":-21.4},{"t":1985.06,"v":-20.1},{"t":1985.7,"v":-23.4},{"t":1986.5,"v":-22.1},{"t":1986.8,"v":-23.3},{"t":1987.0,"v":-22.5},{"t":1987.1,"v":-23.7},{"t":1987.4,"v":-24.7},{"t":1987.6,"v":-26.3},{"t":1987.5,"v":-28.5},{"t":1987.9,"v":-24.4},{"t":1988.2,"v":-21.6},{"t":1988.75,"v":-22.8},{"t":1989.0,"v":-25.4},{"t":1989.7,"v":-25.2},{"t":1989.4,"v":-21.8},{"t":1987.0,"v":-10.4},{"t":1987.02,"v":-7.6},{"t":1987.9,"v":-10.7},{"t":1988.2,"v":-7.1},{"t":1988.7,"v":-10.2},{"t":1989.2,"v":-10.1},{"t":1988.4,"v":-11.5},{"t":1988.7,"v":-15.3},{"t":1988.42,"v":-15.4},{"t":1989.0,"v":-13.0},{"t":1989.2,"v":-13.7},{"t":1989.5,"v":-13.0},{"t":1989.8,"v":-14.0},{"t":1989.9,"v":-13.0},{"t":1989.82,"v":-11.6},{"t":1988.9,"v":-15.7},{"t":1989.1,"v":-15.7},{"t":1987.3,"v":-13.0},{"t":1986.9,"v":-13.0},{"t":1987.2,"v":-16.1},{"t":1987.22,"v":-17.3},{"t":1987.7,"v":-18.3},{"t":1987.96,"v":-18.0},{"t":1986.75,"v":-17.3},{"t":1986.77,"v":-18.7},{"t":1987.2,"v":-19.7},{"t":1987.55,"v":-19.5},{"t":1987.8,"v":-19.7},{"t":1988.2,"v":-20.0},{"t":1988.8,"v":-18.3},{"t":1989.5,"v":-16.8},{"t":1989.9,"v":-16.8},{"t":1990.0,"v":-18.7},{"t":1989.92,"v":-19.5},{"t":1989.52,"v":-18.3},{"t":1990.15,"v":-10.2},{"t":1990.3,"v":-7.8},{"t":1990.4,"v":-9.6},{"t":1990.42,"v":-5.9},{"t":1990.2,"v":-4.5},{"t":1990.4,"v":-3.3},{"t":1990.3,"v":-2.6},{"t":1989.8,"v":-1.4},{"t":1989.82,"v":-4.4},{"t":1988.9,"v":-4.2},{"t":1989.0,"v":-4.7},{"t":1989.4,"v":-3.0},{"t":1989.2,"v":-5.9},{"t":1989.6,"v":-6.2},{"t":1990.5,"v":-0.7},{"t":1991.0,"v":-1.9},{"t":1991.06,"v":2.2},{"t":1990.7,"v":1.7},{"t":1991.2,"v":-10.3},{"t":1991.22,"v":-13.5},{"t":1991.5,"v":-17.6},{"t":1992.1,"v":-17.1},{"t":1992.12,"v":-21.1},{"t":1992.9,"v":-26.4},{"t":1991.8,"v":-9.5},{"t":1992.2,"v":-10.9},{"t":1992.5,"v":-12.3},{"t":1992.8,"v":-13.7},{"t":1991.2,"v":-5.7},{"t":1991.5,"v":-4.2},{"t":1991.85,"v":-2.0},{"t":1991.4,"v":-6.1},{"t":1991.96,"v":-5.3},{"t":1991.98,"v":-6.1},{"t":1992.1,"v":-7.3},{"t":1992.3,"v":-6.6},{"t":1991.5,"v":0.3},{"t":1991.56,"v":1.2},{"t":1992.76,"v":-7.1},{"t":1993.0,"v":-8.0},{"t":1993.1,"v":-6.1},{"t":1993.9,"v":-10.1},{"t":1994.3,"v":1.0},{"t":1994.4,"v":2.3},{"t":1993.05,"v":2.2},{"t":1992.5,"v":-5.2},
{"t":1986.05,"v":7.4},{"t":1990.97,"v":13.2},{"t":1990.9,"v":10.3},{"t":1990.65,"v":8.9},{"t":1990.5,"v":6.9},{"t":1990.6,"v":5.3},{"t":1991.3,"v":4.8},{"t":1991.4,"v":4.4},{"t":1990.99,"v":4.1},{"t":1991.7,"v":3.3},{"t":1992.2,"v":3.3},{"t":1992.5,"v":6.1},{"t":1992.0,"v":2.4},{"t":1990.67,"v":2.4},{"t":1990.8,"v":1.7},{"t":1991.3,"v":1.0},{"t":1991.65,"v":0.1},{"t":1990.52,"v":-0.7},{"t":1994.3,"v":4.2},{"t":1994.32,"v":3.7},{"t":1995.1,"v":2.6},{"t":1995.9,"v":1.8},{"t":1993.02,"v":2.2},{"t":1991.0,"v":-1.6},{"t":1991.9,"v":-2.6},{"t":1992.85,"v":0.7},
{"t":1993.0,"v":-4.2},{"t":1993.1,"v":-1.0},{"t":1993.2,"v":-6.5},{"t":1993.3,"v":-2.3},{"t":1993.4,"v":0.8},{"t":1993.5,"v":-5.1},{"t":1993.6,"v":-3.4},{"t":1993.7,"v":-8.6},{"t":1993.8,"v":-0.4},{"t":1993.9,"v":-2.8},
{"t":1994.0,"v":-5.9},{"t":1994.1,"v":-1.7},{"t":1994.2,"v":-3.9},{"t":1994.3,"v":1.4},{"t":1994.4,"v":-7.2},{"t":1994.5,"v":-2.6},{"t":1994.6,"v":-4.7},{"t":1994.7,"v":-0.9},{"t":1994.8,"v":-3.1},{"t":1994.9,"v":-6.0},
{"t":1995.0,"v":-1.5},{"t":1995.1,"v":-4.4},{"t":1995.2,"v":-2.0},{"t":1995.3,"v":-8.1},{"t":1995.4,"v":-3.6},{"t":1995.5,"v":0.3},{"t":1995.6,"v":-5.5},{"t":1995.7,"v":-2.5},{"t":1995.8,"v":-6.8},{"t":1995.9,"v":-1.2},
{"t":1996.0,"v":-4.0},{"t":1996.1,"v":-2.2},{"t":1996.2,"v":-7.7},{"t":1996.3,"v":-0.6},{"t":1996.4,"v":-3.3},{"t":1996.5,"v":-5.7},{"t":1996.6,"v":-1.8},{"t":1996.7,"v":-4.6},{"t":1996.8,"v":-8.9},{"t":1996.9,"v":-2.9},
{"t":1997.0,"v":-0.2},{"t":1997.1,"v":-5.3},{"t":1997.2,"v":-3.0},{"t":1997.3,"v":-6.3},{"t":1997.4,"v":-1.4},{"t":1997.5,"v":-4.1},{"t":1997.6,"v":-2.4},
{"t":1997.7,"v":2.0},{"t":1997.8,"v":6.4},{"t":1997.9,"v":0.5},{"t":1998.0,"v":4.3},{"t":1998.1,"v":1.2},{"t":1998.2,"v":3.1},{"t":1998.3,"v":-0.6},{"t":1998.4,"v":2.6},
{"t":1998.5,"v":0.8},{"t":1998.6,"v":2.3},{"t":1998.7,"v":-1.2},{"t":1998.8,"v":1.5},{"t":1998.9,"v":3.6},{"t":1999.0,"v":0.1},{"t":1999.1,"v":-1.9},{"t":1999.2,"v":1.9},{"t":1999.3,"v":0.4},{"t":1999.4,"v":2.9},
{"t":1999.5,"v":-0.8},{"t":1999.6,"v":1.1},{"t":1999.7,"v":3.2},{"t":1999.8,"v":-0.3},{"t":1999.9,"v":1.7},{"t":2000.0,"v":0.6},{"t":2000.1,"v":-1.5},{"t":2000.2,"v":2.4},{"t":2000.3,"v":0.9},{"t":2000.4,"v":-0.4},
{"t":2000.5,"v":3.5},{"t":2000.6,"v":1.3},{"t":2000.7,"v":-1.1},{"t":2000.8,"v":0.2},{"t":2000.9,"v":2.1},{"t":2001.0,"v":-0.7},{"t":2001.1,"v":1.6},{"t":2001.2,"v":3.9},{"t":2001.3,"v":0.0},{"t":2001.4,"v":-1.6},
{"t":2001.5,"v":1.0},{"t":2001.6,"v":2.7},{"t":2001.7,"v":-0.5},{"t":2001.8,"v":0.7},{"t":2001.9,"v":2.0},{"t":2002.0,"v":-1.3},{"t":2002.1,"v":1.4},{"t":2002.2,"v":0.3},{"t":2002.3,"v":6.2},{"t":2002.4,"v":-0.9},
{"t":2002.5,"v":2.2},{"t":2002.6,"v":0.5},{"t":2002.7,"v":-1.8},{"t":2002.8,"v":1.2},{"t":2002.9,"v":3.0},
{"t":2003.0,"v":-0.6},{"t":2003.1,"v":-2.8},{"t":2003.2,"v":-1.2},{"t":2003.3,"v":-4.0},{"t":2003.4,"v":0.4},{"t":2003.5,"v":-2.2},{"t":2003.6,"v":-3.4},{"t":2003.7,"v":-0.9},{"t":2003.8,"v":-5.1},{"t":2003.9,"v":-1.6},
{"t":2004.0,"v":-2.9},{"t":2004.1,"v":0.9},{"t":2004.2,"v":-3.8},{"t":2004.3,"v":-1.0},{"t":2004.4,"v":-2.5},{"t":2004.5,"v":-6.3},{"t":2004.6,"v":-0.3},{"t":2004.7,"v":-3.2},{"t":2004.8,"v":-1.8},{"t":2004.9,"v":-4.5},
{"t":2005.0,"v":-2.0},{"t":2005.1,"v":0.2},{"t":2005.2,"v":-3.5},{"t":2005.3,"v":-1.4},{"t":2005.4,"v":-5.6},{"t":2005.5,"v":-2.6},{"t":2005.6,"v":-0.7},{"t":2005.7,"v":-3.9},{"t":2005.8,"v":-1.1},{"t":2005.9,"v":-2.4},
{"t":2006.0,"v":-4.3},{"t":2006.1,"v":-0.5},{"t":2006.2,"v":-2.7},{"t":2006.3,"v":1.3},{"t":2006.4,"v":-3.1},{"t":2006.5,"v":-1.5},{"t":2006.6,"v":-4.8},{"t":2006.7,"v":-0.9},{"t":2006.8,"v":-2.2},{"t":2006.9,"v":-3.6},
{"t":2007.0,"v":-1.0},{"t":2007.1,"v":-2.9},{"t":2007.2,"v":0.6},{"t":2007.3,"v":-4.1},{"t":2007.4,"v":-1.7},{"t":2007.5,"v":-2.4},{"t":2007.6,"v":-5.2},{"t":2007.7,"v":-0.2},{"t":2007.8,"v":-3.0},{"t":2007.9,"v":-1.3},
{"t":2008.0,"v":-2.1},{"t":2008.1,"v":-4.6},{"t":2008.2,"v":-0.8},{"t":2008.3,"v":-2.6},{"t":2008.4,"v":1.0},
{"t":2008.5,"v":2.6},{"t":2008.6,"v":0.4},{"t":2008.7,"v":3.8},{"t":2008.8,"v":1.5},{"t":2008.9,"v":5.0},{"t":2009.0,"v":2.2},{"t":2009.1,"v":-0.6},{"t":2009.2,"v":3.3},{"t":2009.3,"v":1.1},{"t":2009.4,"v":4.4},{"t":2009.5,"v":2.8},{"t":2009.6,"v":0.1},{"t":2009.7,"v":3.6},{"t":2009.8,"v":1.7},{"t":2009.9,"v":2.5},
{"t":2010.0,"v":-0.7},{"t":2010.1,"v":-3.1},{"t":2010.2,"v":-1.4},{"t":2010.3,"v":-5.6},{"t":2010.4,"v":-2.4},{"t":2010.5,"v":0.5},{"t":2010.6,"v":-3.8},{"t":2010.7,"v":-1.9},{"t":2010.8,"v":-4.7},{"t":2010.9,"v":-0.9},{"t":2011.0,"v":-2.8},{"t":2011.1,"v":-1.2},{"t":2011.2,"v":-3.5},{"t":2011.3,"v":0.9},{"t":2011.4,"v":-2.0},
{"t":2011.5,"v":0.6},{"t":2011.6,"v":-1.8},{"t":2011.7,"v":2.1},{"t":2011.8,"v":-0.4},{"t":2011.9,"v":1.3},{"t":2012.0,"v":3.5},{"t":2012.1,"v":-2.3},{"t":2012.2,"v":0.2},{"t":2012.3,"v":1.8},{"t":2012.4,"v":-1.1},
{"t":2012.5,"v":2.7},{"t":2012.6,"v":-0.7},{"t":2012.7,"v":0.9},{"t":2012.8,"v":-2.8},{"t":2012.9,"v":1.6},{"t":2013.0,"v":0.0},{"t":2013.1,"v":3.8},{"t":2013.2,"v":-1.4},{"t":2013.3,"v":1.1},{"t":2013.4,"v":-0.2},
{"t":2013.5,"v":2.3},{"t":2013.6,"v":-2.1},{"t":2013.7,"v":0.7},{"t":2013.8,"v":4.2},{"t":2013.9,"v":-0.9},
{"t":2014.0,"v":1.4},{"t":2014.1,"v":-1.6},{"t":2014.2,"v":0.3},{"t":2014.3,"v":2.5},{"t":2014.4,"v":-0.8},{"t":2014.5,"v":-2.7},{"t":2014.6,"v":1.0},{"t":2014.7,"v":3.1},{"t":2014.8,"v":-0.3},{"t":2014.9,"v":0.8},
{"t":2015.0,"v":-1.9},{"t":2015.1,"v":2.0},{"t":2015.2,"v":0.4},{"t":2015.3,"v":-1.2},{"t":2015.4,"v":3.4},{"t":2015.5,"v":-0.5},{"t":2015.6,"v":1.5},{"t":2015.7,"v":-2.4},{"t":2015.8,"v":0.6},{"t":2015.9,"v":2.2},
{"t":2016.0,"v":-0.9},{"t":2016.1,"v":1.2},{"t":2016.2,"v":-2.9},{"t":2016.3,"v":0.1},{"t":2016.4,"v":2.8},{"t":2016.5,"v":-1.4},{"t":2016.6,"v":0.9},{"t":2016.7,"v":-0.4},{"t":2016.8,"v":3.0},{"t":2016.9,"v":-1.7},
{"t":2017.0,"v":0.5},{"t":2017.1,"v":2.3},{"t":2017.2,"v":-1.0},{"t":2017.3,"v":1.6},{"t":2017.4,"v":-2.2},{"t":2017.5,"v":0.2},{"t":2017.6,"v":2.7},{"t":2017.7,"v":-0.6},{"t":2017.8,"v":1.1},{"t":2017.9,"v":-1.5},
{"t":2018.0,"v":2.4},{"t":2018.1,"v":0.0},{"t":2018.2,"v":-2.0},{"t":2018.3,"v":1.3},{"t":2018.4,"v":3.2},{"t":2018.5,"v":-0.7},{"t":2018.6,"v":0.8},{"t":2018.7,"v":-1.9},{"t":2018.8,"v":1.9},{"t":2018.9,"v":-0.2},
{"t":2019.0,"v":-2.6},{"t":2019.1,"v":1.0},{"t":2019.2,"v":2.6},{"t":2019.3,"v":-0.9},{"t":2019.4,"v":0.4},{"t":2019.5,"v":-1.6},{"t":2019.6,"v":1.7},{"t":2019.7,"v":3.5},{"t":2019.8,"v":-0.4},{"t":2019.9,"v":0.9},
{"t":2020.0,"v":-1.2},{"t":2020.1,"v":2.1},{"t":2020.2,"v":0.3},{"t":2020.3,"v":-2.5},{"t":2020.4,"v":1.4},{"t":2020.5,"v":-0.1},{"t":2020.6,"v":2.9},{"t":2020.7,"v":-1.8},{"t":2020.8,"v":0.6},{"t":2020.9,"v":5.4},
{"t":2021.0,"v":1.2},{"t":2021.1,"v":-1.0},{"t":2021.2,"v":2.2},{"t":2021.3,"v":-2.1},{"t":2021.4,"v":0.0},{"t":2021.5,"v":1.8},{"t":2021.6,"v":-0.7},{"t":2021.7,"v":3.0},{"t":2021.8,"v":-1.3},{"t":2021.9,"v":0.7},
{"t":2022.0,"v":-2.3},{"t":2022.1,"v":1.5},{"t":2022.2,"v":0.2},{"t":2022.3,"v":2.6},{"t":2022.4,"v":-1.1},{"t":2022.5,"v":0.9},{"t":2022.6,"v":-0.5},{"t":2022.7,"v":4.4},{"t":2022.8,"v":1.0},{"t":2022.9,"v":-1.6},
{"t":2023.0,"v":2.0},{"t":2023.1,"v":-0.3},{"t":2023.2,"v":1.3},{"t":2023.3,"v":-2.2},{"t":2023.4,"v":3.6},{"t":2023.5,"v":0.4},{"t":2023.6,"v":-1.2},{"t":2023.7,"v":2.4},{"t":2023.8,"v":0.1},{"t":2023.9,"v":-0.8},{"t":2024.0,"v":1.7},
{"t":1993.05,"v":-2.8},{"t":1993.15,"v":-7.3},{"t":1993.25,"v":-0.9},{"t":1993.35,"v":-4.6},{"t":1993.45,"v":-3.0},{"t":1993.55,"v":1.2},{"t":1993.65,"v":-6.1},{"t":1993.75,"v":-1.9},{"t":1993.85,"v":-4.3},{"t":1993.95,"v":-7.7},
{"t":1994.05,"v":-3.4},{"t":1994.15,"v":0.5},{"t":1994.25,"v":-5.0},{"t":1994.35,"v":-2.1},{"t":1994.45,"v":-8.0},{"t":1994.55,"v":-1.1},{"t":1994.65,"v":-3.7},{"t":1994.75,"v":-5.6},{"t":1994.85,"v":2.0},{"t":1994.95,"v":-2.4},
{"t":1995.05,"v":-6.6},{"t":1995.15,"v":-0.6},{"t":1995.25,"v":-3.3},{"t":1995.35,"v":-4.9},{"t":1995.45,"v":-1.9},{"t":1995.55,"v":-7.1},{"t":1995.65,"v":-2.7},{"t":1995.75,"v":0.9},{"t":1995.85,"v":-4.1},{"t":1995.95,"v":-5.9},
{"t":1996.05,"v":-1.0},{"t":1996.15,"v":-5.3},{"t":1996.25,"v":-2.6},{"t":1996.35,"v":-3.9},{"t":1996.45,"v":-6.4},{"t":1996.55,"v":0.0},{"t":1996.65,"v":-4.2},{"t":1996.75,"v":-2.0},{"t":1996.85,"v":-5.0},{"t":1996.95,"v":-1.6},
{"t":1997.05,"v":-3.6},{"t":1997.15,"v":-7.0},{"t":1997.25,"v":-1.1},{"t":1997.35,"v":-4.7},{"t":1997.45,"v":0.4},{"t":1997.55,"v":-2.8},{"t":1997.65,"v":-5.8},{"t":1997.75,"v":3.4},{"t":1997.85,"v":1.0},{"t":1997.95,"v":5.2},
{"t":1998.05,"v":2.3},{"t":1998.15,"v":0.0},{"t":1998.25,"v":4.0},{"t":1998.35,"v":1.6},{"t":1998.45,"v":2.9},{"t":1998.55,"v":-0.4},{"t":1998.65,"v":1.9},{"t":1998.75,"v":3.0},{"t":1998.85,"v":0.4},{"t":1998.95,"v":-1.0},
{"t":1999.05,"v":2.4},{"t":1999.15,"v":0.9},{"t":1999.25,"v":-0.6},{"t":1999.35,"v":3.4},{"t":1999.45,"v":1.3},{"t":1999.55,"v":0.0},{"t":1999.65,"v":2.2},{"t":1999.75,"v":-1.3},{"t":1999.85,"v":1.0},{"t":1999.95,"v":2.8},
{"t":2000.05,"v":-0.2},{"t":2000.15,"v":1.8},{"t":2000.25,"v":-1.0},{"t":2000.35,"v":3.0},{"t":2000.45,"v":0.5},{"t":2000.55,"v":1.6},{"t":2000.65,"v":-0.8},{"t":2000.75,"v":2.6},{"t":2000.85,"v":1.1},{"t":2000.95,"v":-1.7},
{"t":2001.05,"v":2.2},{"t":2001.15,"v":0.4},{"t":2001.25,"v":-1.2},{"t":2001.35,"v":1.3},{"t":2001.45,"v":2.9},{"t":2001.55,"v":0.1},{"t":2001.65,"v":-0.5},{"t":2001.75,"v":3.3},{"t":2001.85,"v":1.5},{"t":2001.95,"v":-0.9},
{"t":2002.05,"v":0.8},{"t":2002.15,"v":2.6},{"t":2002.25,"v":-1.5},{"t":2002.35,"v":1.9},{"t":2002.45,"v":0.0},{"t":2002.55,"v":3.4},{"t":2002.65,"v":-0.6},{"t":2002.75,"v":1.0},{"t":2002.85,"v":2.4},{"t":2002.95,"v":-0.3},
{"t":2003.05,"v":-2.0},{"t":2003.15,"v":0.2},{"t":2003.25,"v":-3.1},{"t":2003.35,"v":-1.8},{"t":2003.45,"v":-4.6},{"t":2003.55,"v":-0.4},{"t":2003.65,"v":-2.7},{"t":2003.75,"v":1.0},{"t":2003.85,"v":-3.7},{"t":2003.95,"v":-1.1},
{"t":2004.05,"v":-2.2},{"t":2004.15,"v":-4.2},{"t":2004.25,"v":-0.1},{"t":2004.35,"v":-3.0},{"t":2004.45,"v":-1.4},{"t":2004.55,"v":-4.9},{"t":2004.65,"v":-2.1},{"t":2004.75,"v":0.3},{"t":2004.85,"v":-3.4},{"t":2004.95,"v":-1.6},
{"t":2005.05,"v":-3.8},{"t":2005.15,"v":-1.0},{"t":2005.25,"v":-2.8},{"t":2005.35,"v":-5.0},{"t":2005.45,"v":-0.3},{"t":2005.55,"v":-2.0},{"t":2005.65,"v":-3.3},{"t":2005.75,"v":-1.5},{"t":2005.85,"v":-4.4},{"t":2005.95,"v":-0.8},
{"t":2006.05,"v":-1.9},{"t":2006.15,"v":-3.5},{"t":2006.25,"v":0.4},{"t":2006.35,"v":-2.4},{"t":2006.45,"v":-4.0},{"t":2006.55,"v":-1.1},{"t":2006.65,"v":-2.9},{"t":2006.75,"v":-0.2},{"t":2006.85,"v":-5.3},{"t":2006.95,"v":-2.0},
{"t":2007.05,"v":-3.2},{"t":2007.15,"v":-0.7},{"t":2007.25,"v":-4.5},{"t":2007.35,"v":-1.6},{"t":2007.45,"v":-2.8},{"t":2007.55,"v":0.2},{"t":2007.65,"v":-3.7},{"t":2007.75,"v":-1.0},{"t":2007.85,"v":-2.2},{"t":2007.95,"v":-4.0},
{"t":2008.05,"v":-0.5},{"t":2008.15,"v":-2.9},{"t":2008.25,"v":-1.4},{"t":2008.35,"v":-3.6},{"t":2008.45,"v":0.4},{"t":2008.55,"v":1.9},{"t":2008.65,"v":4.1},{"t":2008.75,"v":0.8},{"t":2008.85,"v":3.0},{"t":2008.95,"v":2.1},
{"t":2009.05,"v":4.6},{"t":2009.15,"v":1.3},{"t":2009.25,"v":3.7},{"t":2009.35,"v":0.5},{"t":2009.45,"v":2.4},{"t":2009.55,"v":1.0},{"t":2009.65,"v":3.1},{"t":2009.75,"v":4.9},{"t":2009.85,"v":0.9},{"t":2009.95,"v":1.6},
{"t":2010.05,"v":-2.2},{"t":2010.15,"v":-4.3},{"t":2010.25,"v":-0.4},{"t":2010.35,"v":-3.2},{"t":2010.45,"v":-1.6},{"t":2010.55,"v":-2.9},{"t":2010.65,"v":-0.8},{"t":2010.75,"v":-4.0},{"t":2010.85,"v":-2.5},{"t":2010.95,"v":-1.1},
{"t":2011.05,"v":-3.9},{"t":2011.15,"v":-0.2},{"t":2011.25,"v":-2.4},{"t":2011.35,"v":-1.3},{"t":2011.45,"v":0.3},{"t":2011.55,"v":1.5},{"t":2011.65,"v":-0.9},{"t":2011.75,"v":2.8},{"t":2011.85,"v":0.5},{"t":2011.95,"v":-1.6},
{"t":2012.05,"v":1.1},{"t":2012.15,"v":2.2},{"t":2012.25,"v":-0.2},{"t":2012.35,"v":-1.7},{"t":2012.45,"v":3.1},{"t":2012.55,"v":0.4},{"t":2012.65,"v":1.9},{"t":2012.75,"v":-1.0},{"t":2012.85,"v":0.8},{"t":2012.95,"v":2.5},
{"t":2013.05,"v":-0.5},{"t":2013.15,"v":1.7},{"t":2013.25,"v":0.3},{"t":2013.35,"v":2.9},{"t":2013.45,"v":-1.2},{"t":2013.55,"v":0.9},{"t":2013.65,"v":3.2},{"t":2013.75,"v":-0.3},{"t":2013.85,"v":1.5},{"t":2013.95,"v":0.1},
{"t":2014.05,"v":-0.4},{"t":2014.15,"v":2.0},{"t":2014.25,"v":-2.1},{"t":2014.35,"v":0.9},{"t":2014.45,"v":1.6},{"t":2014.55,"v":0.0},{"t":2014.65,"v":-1.3},{"t":2014.75,"v":2.3},{"t":2014.85,"v":0.5},{"t":2014.95,"v":-0.8},
{"t":2015.05,"v":1.2},{"t":2015.15,"v":-0.9},{"t":2015.25,"v":2.7},{"t":2015.35,"v":0.2},{"t":2015.45,"v":-1.6},{"t":2015.55,"v":1.0},{"t":2015.65,"v":2.5},{"t":2015.75,"v":-0.2},{"t":2015.85,"v":-1.2},{"t":2015.95,"v":1.4},
{"t":2016.05,"v":0.3},{"t":2016.15,"v":2.4},{"t":2016.25,"v":-1.1},{"t":2016.35,"v":0.6},{"t":2016.45,"v":-2.0},{"t":2016.55,"v":1.9},{"t":2016.65,"v":0.0},{"t":2016.75,"v":2.2},{"t":2016.85,"v":-0.8},{"t":2016.95,"v":1.0},
{"t":2017.05,"v":-0.7},{"t":2017.15,"v":1.5},{"t":2017.25,"v":3.0},{"t":2017.35,"v":-1.3},{"t":2017.45,"v":0.8},{"t":2017.55,"v":-0.3},{"t":2017.65,"v":1.8},{"t":2017.75,"v":-2.1},{"t":2017.85,"v":0.4},{"t":2017.95,"v":2.1},
{"t":2018.05,"v":-0.9},{"t":2018.15,"v":1.1},{"t":2018.25,"v":0.3},{"t":2018.35,"v":-1.4},{"t":2018.45,"v":2.2},{"t":2018.55,"v":0.6},{"t":2018.65,"v":-0.5},{"t":2018.75,"v":1.5},{"t":2018.85,"v":-2.2},{"t":2018.95,"v":0.7},
{"t":2019.05,"v":1.9},{"t":2019.15,"v":-0.6},{"t":2019.25,"v":0.4},{"t":2019.35,"v":2.8},{"t":2019.45,"v":-1.1},{"t":2019.55,"v":0.9},{"t":2019.65,"v":-0.2},{"t":2019.75,"v":1.6},{"t":2019.85,"v":-1.7},{"t":2019.95,"v":2.4},
{"t":2020.05,"v":0.2},{"t":2020.15,"v":-0.9},{"t":2020.25,"v":1.7},{"t":2020.35,"v":0.5},{"t":2020.45,"v":-1.5},{"t":2020.55,"v":2.5},{"t":2020.65,"v":-0.4},{"t":2020.75,"v":1.1},{"t":2020.85,"v":-2.0},{"t":2020.95,"v":0.8},
{"t":2021.05,"v":-0.3},{"t":2021.15,"v":2.0},{"t":2021.25,"v":0.6},{"t":2021.35,"v":-1.4},{"t":2021.45,"v":1.5},{"t":2021.55,"v":-0.6},{"t":2021.65,"v":2.3},{"t":2021.75,"v":0.2},{"t":2021.85,"v":-1.0},{"t":2021.95,"v":1.3},
{"t":2022.05,"v":0.5},{"t":2022.15,"v":-0.8},{"t":2022.25,"v":2.1},{"t":2022.35,"v":-1.9},{"t":2022.45,"v":0.9},{"t":2022.55,"v":3.0},{"t":2022.65,"v":-0.3},{"t":2022.75,"v":1.6},{"t":2022.85,"v":-1.2},{"t":2022.95,"v":0.6},
{"t":2023.05,"v":-0.6},{"t":2023.15,"v":2.8},{"t":2023.25,"v":0.2},{"t":2023.35,"v":1.2},{"t":2023.45,"v":-1.5},{"t":2023.55,"v":0.7},{"t":2023.65,"v":3.2},{"t":2023.75,"v":-0.9},{"t":2023.85,"v":1.0},{"t":2023.95,"v":2.3}
]
},
"columns":2,
"spacing":{"row":107,"column":106},
"bounds":"flush",
"concat":[
{"width":633,"height":421,
"layer":[
{"data":{"values":[{}]},"mark":{"type":"rule","color":"#b4b4b4","strokeWidth":1},"encoding":{"x":{"datum":2021,"type":"quantitative","scale":{"domain":[1982,2025],"nice":false,"zero":false},"axis":{"orient":"top","values":[1985,1990,1995,2000,2005,2010,2015,2020,2025],"labels":false,"title":null}}}},
{"data":{"values":[{}]},"mark":{"type":"rule","color":"#a8a8a8","strokeWidth":2.5},"encoding":{"y":{"datum":0,"type":"quantitative","scale":{"domain":[-30,30],"nice":false,"zero":false},"axis":{"orient":"right","values":[-30,-20,-10,0,10,20,30],"labels":false,"title":null}}}},
{"data":{"name":"tx"},"mark":{"type":"point","filled":true,"size":24,"color":"#0000ff","opacity":1},"encoding":{"x":{"field":"t","type":"quantitative","scale":{"domain":[1982,2025],"nice":false,"zero":false},"axis":{"orient":"bottom","values":[1985,1990,1995,2000,2005,2010,2015,2020,2025],"labelExpr":"toString(datum.value)","title":null}},"y":{"field":"v","type":"quantitative","scale":{"domain":[-30,30],"nice":false,"zero":false},"axis":{"orient":"left","values":[-30,-20,-10,0,10,20,30],"labelExpr":"toString(datum.value)","title":null}}}},
{"data":{"values":[{}]},"mark":{"type":"text","text":"TX (mm)","fontSize":44,"font":"Liberation Sans","align":"center","baseline":"alphabetic","color":"black"},"encoding":{"x":{"datum":2008,"type":"quantitative","axis":null},"y":{"datum":-29.3,"type":"quantitative","axis":null}}}
],
"resolve":{"axis":{"x":"independent","y":"independent"}}},
{"width":633,"height":421,
"layer":[
{"data":{"values":[{}]},"mark":{"type":"rule","color":"#b4b4b4","strokeWidth":1},"encoding":{"x":{"datum":2021,"type":"quantitative","scale":{"domain":[1982,2025],"nice":false,"zero":false},"axis":{"orient":"top","values":[1985,1990,1995,2000,2005,2010,2015,2020,2025],"labels":false,"title":null}}}},
{"data":{"values":[{}]},"mark":{"type":"rule","color":"#a8a8a8","strokeWidth":2.5},"encoding":{"y":{"datum":0,"type":"quantitative","scale":{"domain":[-50,50],"nice":false,"zero":false},"axis":{"orient":"right","values":[-50,-40,-30,-20,-10,0,10,20,30,40,50],"labels":false,"title":null}}}},
{"data":{"name":"tz"},"mark":{"type":"point","filled":true,"size":24,"color":"#0000ff","opacity":1},"encoding":{"x":{"field":"t","type":"quantitative","scale":{"domain":[1982,2025],"nice":false,"zero":false},"axis":{"orient":"bottom","values":[1985,1990,1995,2000,2005,2010,2015,2020,2025],"labelExpr":"toString(datum.value)","title":null}},"y":{"field":"v","type":"quantitative","scale":{"domain":[-50,50],"nice":false,"zero":false},"axis":{"orient":"left","values":[-50,-40,-30,-20,-10,0,10,20,30,40,50],"labelExpr":"toString(datum.value)","title":null}}}},
{"data":{"values":[{}]},"mark":{"type":"text","text":"TZ (mm)","fontSize":44,"font":"Liberation Sans","align":"center","baseline":"alphabetic","color":"black"},"encoding":{"x":{"datum":2008,"type":"quantitative","axis":null},"y":{"datum":-48.8,"type":"quantitative","axis":null}}}
],
"resolve":{"axis":{"x":"independent","y":"independent"}}},
{"width":633,"height":421,
"layer":[
{"data":{"values":[{}]},"mark":{"type":"rule","color":"#b4b4b4","strokeWidth":1},"encoding":{"x":{"datum":2021,"type":"quantitative","scale":{"domain":[1982,2025],"nice":false,"zero":false},"axis":{"orient":"top","values":[1985,1990,1995,2000,2005,2010,2015,2020,2025],"labels":false,"title":null}}}},
{"data":{"values":[{}]},"mark":{"type":"rule","color":"#333333","strokeWidth":1.2},"encoding":{"y":{"datum":0,"type":"quantitative","scale":{"domain":[-30,30],"nice":false,"zero":false},"axis":{"orient":"right","values":[-30,-20,-10,0,10,20,30],"labels":false,"title":null}}}},
{"data":{"name":"ty"},"mark":{"type":"point","filled":true,"size":24,"color":"#0000ff","opacity":1},"encoding":{"x":{"field":"t","type":"quantitative","scale":{"domain":[1982,2025],"nice":false,"zero":false},"axis":{"orient":"bottom","values":[1985,1990,1995,2000,2005,2010,2015,2020,2025],"labelExpr":"toString(datum.value)","title":null}},"y":{"field":"v","type":"quantitative","scale":{"domain":[-30,30],"nice":false,"zero":false},"axis":{"orient":"left","values":[-30,-20,-10,0,10,20,30],"labelExpr":"toString(datum.value)","title":null}}}},
{"data":{"values":[{}]},"mark":{"type":"text","text":"TY (mm)","fontSize":44,"font":"Liberation Sans","align":"center","baseline":"alphabetic","color":"black"},"encoding":{"x":{"datum":2008,"type":"quantitative","axis":null},"y":{"datum":-29.3,"type":"quantitative","axis":null}}}
],
"resolve":{"axis":{"x":"independent","y":"independent"}}},
{"width":633,"height":421,
"layer":[
{"data":{"values":[{}]},"mark":{"type":"rule","color":"#b4b4b4","strokeWidth":1},"encoding":{"x":{"datum":2021,"type":"quantitative","scale":{"domain":[1982,2025],"nice":false,"zero":false},"axis":{"orient":"top","values":[1985,1990,1995,2000,2005,2010,2015,2020,2025],"labels":false,"title":null}}}},
{"data":{"values":[{}]},"mark":{"type":"rule","color":"#333333","strokeWidth":1.2},"encoding":{"y":{"datum":0,"type":"quantitative","scale":{"domain":[-30,30],"nice":false,"zero":false},"axis":{"orient":"right","values":[-30,-20,-10,0,10,20,30],"labels":false,"title":null}}}},
{"data":{"name":"sc"},"mark":{"type":"point","filled":true,"size":24,"color":"#0000ff","opacity":1},"encoding":{"x":{"field":"t","type":"quantitative","scale":{"domain":[1982,2025],"nice":false,"zero":false},"axis":{"orient":"bottom","values":[1985,1990,1995,2000,2005,2010,2015,2020,2025],"labelExpr":"toString(datum.value)","title":null}},"y":{"field":"v","type":"quantitative","scale":{"domain":[-30,30],"nice":false,"zero":false},"axis":{"orient":"left","values":[-30,-20,-10,0,10,20,30],"labelExpr":"toString(datum.value)","title":null}}}},
{"data":{"values":[{}]},"mark":{"type":"text","text":"Scale (mm)","fontSize":44,"font":"Liberation Sans","align":"center","baseline":"alphabetic","color":"black"},"encoding":{"x":{"datum":2008,"type":"quantitative","axis":null},"y":{"datum":-27.15,"type":"quantitative","axis":null}}}
],
"resolve":{"axis":{"x":"independent","y":"independent"}}}
]
}
